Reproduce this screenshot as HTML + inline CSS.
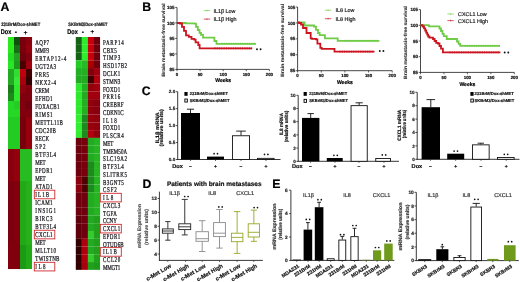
<!DOCTYPE html>
<html><head><meta charset="utf-8"><style>
html,body{margin:0;padding:0;background:#fff;width:520px;height:282px;overflow:hidden;}
svg{display:block;will-change:transform;}
</style></head><body>
<svg width="520" height="282" viewBox="0 0 520 282" font-family='"Liberation Sans", sans-serif' text-rendering="geometricPrecision">
<defs><filter id="hb" x="-5%" y="-1%" width="110%" height="102%"><feGaussianBlur stdDeviation="0.45"/></filter></defs>
<rect x="0" y="0" width="520" height="282" fill="#fff"/>
<text x="0.50" y="10.90" font-size="12.3" font-family='"Liberation Sans", sans-serif' fill="#000" stroke="#000" stroke-width="0.2" font-weight="bold">A</text>
<text x="1.20" y="26.40" font-size="4.9" font-family='"Liberation Sans", sans-serif' fill="#111" stroke="#111" stroke-width="0.18" font-weight="bold" textLength="39" lengthAdjust="spacingAndGlyphs">231BrM/Dox-shMET</text>
<text x="68.30" y="26.20" font-size="4.9" font-family='"Liberation Sans", sans-serif' fill="#111" stroke="#111" stroke-width="0.18" font-weight="bold" textLength="39.2" lengthAdjust="spacingAndGlyphs">SKBrM3/Dox-shMET</text>
<text x="0.80" y="34.10" font-size="6.8" font-family='"Liberation Sans", sans-serif' fill="#000" stroke="#000" stroke-width="0.18" font-weight="bold" textLength="10.5" lengthAdjust="spacingAndGlyphs">Dox</text>
<text x="67.30" y="34.10" font-size="6.8" font-family='"Liberation Sans", sans-serif' fill="#000" stroke="#000" stroke-width="0.18" font-weight="bold" textLength="10.5" lengthAdjust="spacingAndGlyphs">Dox</text>
<text x="16.00" y="33.80" font-size="6.8" font-family='"Liberation Sans", sans-serif' fill="#000" stroke="#000" stroke-width="0.18" font-weight="bold" text-anchor="middle">-</text>
<text x="25.60" y="34.50" font-size="7.0" font-family='"Liberation Sans", sans-serif' fill="#000" font-weight="bold" text-anchor="middle">+</text>
<text x="82.90" y="34.20" font-size="6.8" font-family='"Liberation Sans", sans-serif' fill="#000" stroke="#000" stroke-width="0.18" font-weight="bold" text-anchor="middle">-</text>
<text x="92.20" y="34.40" font-size="7.0" font-family='"Liberation Sans", sans-serif' fill="#000" font-weight="bold" text-anchor="middle">+</text>
<g filter="url(#hb)">
<rect x="8.00" y="37.00" width="6.05" height="8.05" fill="#2aec1c"/>
<rect x="14.00" y="37.00" width="6.05" height="8.05" fill="#0f500f"/>
<rect x="20.00" y="37.00" width="6.05" height="8.05" fill="#78000a"/>
<rect x="26.00" y="37.00" width="6.05" height="8.05" fill="#8c000c"/>
<rect x="8.00" y="45.00" width="6.05" height="8.05" fill="#2aec1c"/>
<rect x="14.00" y="45.00" width="6.05" height="8.05" fill="#186e18"/>
<rect x="20.00" y="45.00" width="6.05" height="8.05" fill="#78000a"/>
<rect x="26.00" y="45.00" width="6.05" height="8.05" fill="#96000c"/>
<rect x="8.00" y="53.00" width="6.05" height="8.05" fill="#22dd22"/>
<rect x="14.00" y="53.00" width="6.05" height="8.05" fill="#22a022"/>
<rect x="20.00" y="53.00" width="6.05" height="8.05" fill="#70000a"/>
<rect x="26.00" y="53.00" width="6.05" height="8.05" fill="#80000a"/>
<rect x="8.00" y="61.00" width="6.05" height="8.05" fill="#28e828"/>
<rect x="14.00" y="61.00" width="6.05" height="8.05" fill="#1a9a1a"/>
<rect x="20.00" y="61.00" width="6.05" height="8.05" fill="#4a0006"/>
<rect x="26.00" y="61.00" width="6.05" height="8.05" fill="#a0000a"/>
<rect x="8.00" y="69.00" width="6.05" height="8.05" fill="#22aa22"/>
<rect x="14.00" y="69.00" width="6.05" height="8.05" fill="#33dd33"/>
<rect x="20.00" y="69.00" width="6.05" height="8.05" fill="#c0000c"/>
<rect x="26.00" y="69.00" width="6.05" height="8.05" fill="#400206"/>
<rect x="8.00" y="77.00" width="6.05" height="8.05" fill="#22aa22"/>
<rect x="14.00" y="77.00" width="6.05" height="8.05" fill="#38e838"/>
<rect x="20.00" y="77.00" width="6.05" height="8.05" fill="#a8000c"/>
<rect x="26.00" y="77.00" width="6.05" height="8.05" fill="#300204"/>
<rect x="8.00" y="85.00" width="6.05" height="8.05" fill="#1a7a1a"/>
<rect x="14.00" y="85.00" width="6.05" height="8.05" fill="#2ee82e"/>
<rect x="20.00" y="85.00" width="6.05" height="8.05" fill="#90000a"/>
<rect x="26.00" y="85.00" width="6.05" height="8.05" fill="#80000a"/>
<rect x="8.00" y="93.00" width="6.05" height="8.05" fill="#1a8a1a"/>
<rect x="14.00" y="93.00" width="6.05" height="8.05" fill="#2ee82e"/>
<rect x="20.00" y="93.00" width="6.05" height="8.05" fill="#80000a"/>
<rect x="26.00" y="93.00" width="6.05" height="8.05" fill="#80000a"/>
<rect x="8.00" y="101.00" width="6.05" height="8.05" fill="#28d828"/>
<rect x="14.00" y="101.00" width="6.05" height="8.05" fill="#28cc28"/>
<rect x="20.00" y="101.00" width="6.05" height="8.05" fill="#80000a"/>
<rect x="26.00" y="101.00" width="6.05" height="8.05" fill="#70000a"/>
<rect x="8.00" y="109.00" width="6.05" height="8.05" fill="#28d828"/>
<rect x="14.00" y="109.00" width="6.05" height="8.05" fill="#28d828"/>
<rect x="20.00" y="109.00" width="6.05" height="8.05" fill="#80000a"/>
<rect x="26.00" y="109.00" width="6.05" height="8.05" fill="#80000a"/>
<rect x="8.00" y="117.00" width="6.05" height="8.05" fill="#22cc22"/>
<rect x="14.00" y="117.00" width="6.05" height="8.05" fill="#22cc22"/>
<rect x="20.00" y="117.00" width="6.05" height="8.05" fill="#78000a"/>
<rect x="26.00" y="117.00" width="6.05" height="8.05" fill="#96000c"/>
<rect x="8.00" y="125.00" width="6.05" height="8.05" fill="#22cc22"/>
<rect x="14.00" y="125.00" width="6.05" height="8.05" fill="#22cc22"/>
<rect x="20.00" y="125.00" width="6.05" height="8.05" fill="#78000a"/>
<rect x="26.00" y="125.00" width="6.05" height="8.05" fill="#96000c"/>
<rect x="8.00" y="133.00" width="6.05" height="8.05" fill="#22cc22"/>
<rect x="14.00" y="133.00" width="6.05" height="8.05" fill="#22cc22"/>
<rect x="20.00" y="133.00" width="6.05" height="8.05" fill="#78000a"/>
<rect x="26.00" y="133.00" width="6.05" height="8.05" fill="#96000c"/>
<rect x="8.00" y="141.00" width="6.05" height="8.05" fill="#22cc22"/>
<rect x="14.00" y="141.00" width="6.05" height="8.05" fill="#22cc22"/>
<rect x="20.00" y="141.00" width="6.05" height="8.05" fill="#78000a"/>
<rect x="26.00" y="141.00" width="6.05" height="8.05" fill="#96000c"/>
<rect x="8.00" y="149.00" width="6.05" height="8.05" fill="#88000a"/>
<rect x="14.00" y="149.00" width="6.05" height="8.05" fill="#94000c"/>
<rect x="20.00" y="149.00" width="6.05" height="8.05" fill="#28bc20"/>
<rect x="26.00" y="149.00" width="6.05" height="8.05" fill="#28bc20"/>
<rect x="8.00" y="157.00" width="6.05" height="8.05" fill="#88000a"/>
<rect x="14.00" y="157.00" width="6.05" height="8.05" fill="#94000c"/>
<rect x="20.00" y="157.00" width="6.05" height="8.05" fill="#28bc20"/>
<rect x="26.00" y="157.00" width="6.05" height="8.05" fill="#28bc20"/>
<rect x="8.00" y="165.00" width="6.05" height="8.05" fill="#88000a"/>
<rect x="14.00" y="165.00" width="6.05" height="8.05" fill="#94000c"/>
<rect x="20.00" y="165.00" width="6.05" height="8.05" fill="#28bc20"/>
<rect x="26.00" y="165.00" width="6.05" height="8.05" fill="#28bc20"/>
<rect x="8.00" y="173.00" width="6.05" height="8.05" fill="#88000a"/>
<rect x="14.00" y="173.00" width="6.05" height="8.05" fill="#94000c"/>
<rect x="20.00" y="173.00" width="6.05" height="8.05" fill="#28bc20"/>
<rect x="26.00" y="173.00" width="6.05" height="8.05" fill="#28bc20"/>
<rect x="8.00" y="181.00" width="6.05" height="8.05" fill="#7c000a"/>
<rect x="14.00" y="181.00" width="6.05" height="8.05" fill="#82000a"/>
<rect x="20.00" y="181.00" width="6.05" height="8.05" fill="#24aa18"/>
<rect x="26.00" y="181.00" width="6.05" height="8.05" fill="#26b01a"/>
<rect x="8.00" y="189.00" width="6.05" height="8.05" fill="#7c000a"/>
<rect x="14.00" y="189.00" width="6.05" height="8.05" fill="#82000a"/>
<rect x="20.00" y="189.00" width="6.05" height="8.05" fill="#24aa18"/>
<rect x="26.00" y="189.00" width="6.05" height="8.05" fill="#26b01a"/>
<rect x="8.00" y="197.00" width="6.05" height="8.05" fill="#7c000a"/>
<rect x="14.00" y="197.00" width="6.05" height="8.05" fill="#82000a"/>
<rect x="20.00" y="197.00" width="6.05" height="8.05" fill="#24aa18"/>
<rect x="26.00" y="197.00" width="6.05" height="8.05" fill="#26b01a"/>
<rect x="8.00" y="205.00" width="6.05" height="8.05" fill="#7c000a"/>
<rect x="14.00" y="205.00" width="6.05" height="8.05" fill="#82000a"/>
<rect x="20.00" y="205.00" width="6.05" height="8.05" fill="#24aa18"/>
<rect x="26.00" y="205.00" width="6.05" height="8.05" fill="#26b01a"/>
<rect x="8.00" y="213.00" width="6.05" height="8.05" fill="#7c000a"/>
<rect x="14.00" y="213.00" width="6.05" height="8.05" fill="#82000a"/>
<rect x="20.00" y="213.00" width="6.05" height="8.05" fill="#24aa18"/>
<rect x="26.00" y="213.00" width="6.05" height="8.05" fill="#26b01a"/>
<rect x="8.00" y="221.00" width="6.05" height="8.05" fill="#7c000a"/>
<rect x="14.00" y="221.00" width="6.05" height="8.05" fill="#82000a"/>
<rect x="20.00" y="221.00" width="6.05" height="8.05" fill="#24aa18"/>
<rect x="26.00" y="221.00" width="6.05" height="8.05" fill="#26b01a"/>
<rect x="8.00" y="229.00" width="6.05" height="8.05" fill="#7c000a"/>
<rect x="14.00" y="229.00" width="6.05" height="8.05" fill="#82000a"/>
<rect x="20.00" y="229.00" width="6.05" height="8.05" fill="#24aa18"/>
<rect x="26.00" y="229.00" width="6.05" height="8.05" fill="#26b01a"/>
<rect x="8.00" y="237.00" width="6.05" height="8.05" fill="#7c000a"/>
<rect x="14.00" y="237.00" width="6.05" height="8.05" fill="#82000a"/>
<rect x="20.00" y="237.00" width="6.05" height="8.05" fill="#24aa18"/>
<rect x="26.00" y="237.00" width="6.05" height="8.05" fill="#26b01a"/>
<rect x="8.00" y="245.00" width="6.05" height="8.05" fill="#82000a"/>
<rect x="14.00" y="245.00" width="6.05" height="8.05" fill="#80000a"/>
<rect x="20.00" y="245.00" width="6.05" height="8.05" fill="#1e9a16"/>
<rect x="26.00" y="245.00" width="6.05" height="8.05" fill="#24aa18"/>
<rect x="8.00" y="253.00" width="6.05" height="8.05" fill="#82000a"/>
<rect x="14.00" y="253.00" width="6.05" height="8.05" fill="#80000a"/>
<rect x="20.00" y="253.00" width="6.05" height="8.05" fill="#1e9a16"/>
<rect x="26.00" y="253.00" width="6.05" height="8.05" fill="#24aa18"/>
<rect x="8.00" y="261.00" width="6.05" height="8.05" fill="#82000a"/>
<rect x="14.00" y="261.00" width="6.05" height="8.05" fill="#80000a"/>
<rect x="20.00" y="261.00" width="6.05" height="8.05" fill="#1e9a16"/>
<rect x="26.00" y="261.00" width="6.05" height="8.05" fill="#24aa18"/>
<rect x="75.80" y="37.00" width="6.10" height="7.81" fill="#146414"/>
<rect x="81.85" y="37.00" width="6.10" height="7.81" fill="#2eec2e"/>
<rect x="87.90" y="37.00" width="6.10" height="7.81" fill="#c8000c"/>
<rect x="93.95" y="37.00" width="6.10" height="7.81" fill="#6e000a"/>
<rect x="75.80" y="44.76" width="6.10" height="7.81" fill="#146414"/>
<rect x="81.85" y="44.76" width="6.10" height="7.81" fill="#2eec2e"/>
<rect x="87.90" y="44.76" width="6.10" height="7.81" fill="#c8000c"/>
<rect x="93.95" y="44.76" width="6.10" height="7.81" fill="#6e000a"/>
<rect x="75.80" y="52.52" width="6.10" height="7.81" fill="#146414"/>
<rect x="81.85" y="52.52" width="6.10" height="7.81" fill="#2eec2e"/>
<rect x="87.90" y="52.52" width="6.10" height="7.81" fill="#c8000c"/>
<rect x="93.95" y="52.52" width="6.10" height="7.81" fill="#6e000a"/>
<rect x="75.80" y="60.28" width="6.10" height="7.81" fill="#28cc28"/>
<rect x="81.85" y="60.28" width="6.10" height="7.81" fill="#28bb28"/>
<rect x="87.90" y="60.28" width="6.10" height="7.81" fill="#aa0000"/>
<rect x="93.95" y="60.28" width="6.10" height="7.81" fill="#6e000a"/>
<rect x="75.80" y="68.04" width="6.10" height="7.81" fill="#22b022"/>
<rect x="81.85" y="68.04" width="6.10" height="7.81" fill="#22b022"/>
<rect x="87.90" y="68.04" width="6.10" height="7.81" fill="#80000a"/>
<rect x="93.95" y="68.04" width="6.10" height="7.81" fill="#a0000a"/>
<rect x="75.80" y="75.80" width="6.10" height="7.81" fill="#22aa22"/>
<rect x="81.85" y="75.80" width="6.10" height="7.81" fill="#22aa22"/>
<rect x="87.90" y="75.80" width="6.10" height="7.81" fill="#400206"/>
<rect x="93.95" y="75.80" width="6.10" height="7.81" fill="#b0000c"/>
<rect x="75.80" y="83.56" width="6.10" height="7.81" fill="#2ee82e"/>
<rect x="81.85" y="83.56" width="6.10" height="7.81" fill="#22b022"/>
<rect x="87.90" y="83.56" width="6.10" height="7.81" fill="#90000a"/>
<rect x="93.95" y="83.56" width="6.10" height="7.81" fill="#a0000a"/>
<rect x="75.80" y="91.32" width="6.10" height="7.81" fill="#2ee82e"/>
<rect x="81.85" y="91.32" width="6.10" height="7.81" fill="#22aa22"/>
<rect x="87.90" y="91.32" width="6.10" height="7.81" fill="#a0000a"/>
<rect x="93.95" y="91.32" width="6.10" height="7.81" fill="#a0000a"/>
<rect x="75.80" y="99.08" width="6.10" height="7.81" fill="#2ee82e"/>
<rect x="81.85" y="99.08" width="6.10" height="7.81" fill="#22b022"/>
<rect x="87.90" y="99.08" width="6.10" height="7.81" fill="#90000a"/>
<rect x="93.95" y="99.08" width="6.10" height="7.81" fill="#88000a"/>
<rect x="75.80" y="106.84" width="6.10" height="7.81" fill="#2ee82e"/>
<rect x="81.85" y="106.84" width="6.10" height="7.81" fill="#22b022"/>
<rect x="87.90" y="106.84" width="6.10" height="7.81" fill="#90000a"/>
<rect x="93.95" y="106.84" width="6.10" height="7.81" fill="#88000a"/>
<rect x="75.80" y="114.60" width="6.10" height="7.81" fill="#30ee30"/>
<rect x="81.85" y="114.60" width="6.10" height="7.81" fill="#1a8a1a"/>
<rect x="87.90" y="114.60" width="6.10" height="7.81" fill="#98000a"/>
<rect x="93.95" y="114.60" width="6.10" height="7.81" fill="#90000a"/>
<rect x="75.80" y="122.36" width="6.10" height="7.81" fill="#30ee30"/>
<rect x="81.85" y="122.36" width="6.10" height="7.81" fill="#1a8a1a"/>
<rect x="87.90" y="122.36" width="6.10" height="7.81" fill="#98000a"/>
<rect x="93.95" y="122.36" width="6.10" height="7.81" fill="#90000a"/>
<rect x="75.80" y="130.12" width="6.10" height="7.81" fill="#30ee30"/>
<rect x="81.85" y="130.12" width="6.10" height="7.81" fill="#1a8a1a"/>
<rect x="87.90" y="130.12" width="6.10" height="7.81" fill="#b0000c"/>
<rect x="93.95" y="130.12" width="6.10" height="7.81" fill="#90000a"/>
<rect x="75.80" y="137.88" width="6.10" height="7.81" fill="#6e000a"/>
<rect x="81.85" y="137.88" width="6.10" height="7.81" fill="#78000a"/>
<rect x="87.90" y="137.88" width="6.10" height="7.81" fill="#22aa22"/>
<rect x="93.95" y="137.88" width="6.10" height="7.81" fill="#26b422"/>
<rect x="75.80" y="145.64" width="6.10" height="7.81" fill="#6e000a"/>
<rect x="81.85" y="145.64" width="6.10" height="7.81" fill="#78000a"/>
<rect x="87.90" y="145.64" width="6.10" height="7.81" fill="#22aa22"/>
<rect x="93.95" y="145.64" width="6.10" height="7.81" fill="#26b422"/>
<rect x="75.80" y="153.40" width="6.10" height="7.81" fill="#6e000a"/>
<rect x="81.85" y="153.40" width="6.10" height="7.81" fill="#78000a"/>
<rect x="87.90" y="153.40" width="6.10" height="7.81" fill="#22aa22"/>
<rect x="93.95" y="153.40" width="6.10" height="7.81" fill="#26b422"/>
<rect x="75.80" y="161.16" width="6.10" height="7.81" fill="#6e000a"/>
<rect x="81.85" y="161.16" width="6.10" height="7.81" fill="#78000a"/>
<rect x="87.90" y="161.16" width="6.10" height="7.81" fill="#1a8a1a"/>
<rect x="93.95" y="161.16" width="6.10" height="7.81" fill="#26b422"/>
<rect x="75.80" y="168.92" width="6.10" height="7.81" fill="#6e000a"/>
<rect x="81.85" y="168.92" width="6.10" height="7.81" fill="#78000a"/>
<rect x="87.90" y="168.92" width="6.10" height="7.81" fill="#1a8a1a"/>
<rect x="93.95" y="168.92" width="6.10" height="7.81" fill="#26b422"/>
<rect x="75.80" y="176.68" width="6.10" height="7.81" fill="#8c000c"/>
<rect x="81.85" y="176.68" width="6.10" height="7.81" fill="#500206"/>
<rect x="87.90" y="176.68" width="6.10" height="7.81" fill="#1a8a1a"/>
<rect x="93.95" y="176.68" width="6.10" height="7.81" fill="#26b422"/>
<rect x="75.80" y="184.44" width="6.10" height="7.81" fill="#8c000c"/>
<rect x="81.85" y="184.44" width="6.10" height="7.81" fill="#500206"/>
<rect x="87.90" y="184.44" width="6.10" height="7.81" fill="#1a8a1a"/>
<rect x="93.95" y="184.44" width="6.10" height="7.81" fill="#26b422"/>
<rect x="75.80" y="192.20" width="6.10" height="7.81" fill="#70000a"/>
<rect x="81.85" y="192.20" width="6.10" height="7.81" fill="#70000a"/>
<rect x="87.90" y="192.20" width="6.10" height="7.81" fill="#22aa22"/>
<rect x="93.95" y="192.20" width="6.10" height="7.81" fill="#26b422"/>
<rect x="75.80" y="199.96" width="6.10" height="7.81" fill="#70000a"/>
<rect x="81.85" y="199.96" width="6.10" height="7.81" fill="#70000a"/>
<rect x="87.90" y="199.96" width="6.10" height="7.81" fill="#22aa22"/>
<rect x="93.95" y="199.96" width="6.10" height="7.81" fill="#26b422"/>
<rect x="75.80" y="207.72" width="6.10" height="7.81" fill="#70000a"/>
<rect x="81.85" y="207.72" width="6.10" height="7.81" fill="#70000a"/>
<rect x="87.90" y="207.72" width="6.10" height="7.81" fill="#22aa22"/>
<rect x="93.95" y="207.72" width="6.10" height="7.81" fill="#26b422"/>
<rect x="75.80" y="215.48" width="6.10" height="7.81" fill="#60000a"/>
<rect x="81.85" y="215.48" width="6.10" height="7.81" fill="#70000a"/>
<rect x="87.90" y="215.48" width="6.10" height="7.81" fill="#22aa22"/>
<rect x="93.95" y="215.48" width="6.10" height="7.81" fill="#22a01e"/>
<rect x="75.80" y="223.24" width="6.10" height="7.81" fill="#60000a"/>
<rect x="81.85" y="223.24" width="6.10" height="7.81" fill="#70000a"/>
<rect x="87.90" y="223.24" width="6.10" height="7.81" fill="#22aa22"/>
<rect x="93.95" y="223.24" width="6.10" height="7.81" fill="#22a01e"/>
<rect x="75.80" y="231.00" width="6.10" height="7.81" fill="#60000a"/>
<rect x="81.85" y="231.00" width="6.10" height="7.81" fill="#70000a"/>
<rect x="87.90" y="231.00" width="6.10" height="7.81" fill="#34cc2e"/>
<rect x="93.95" y="231.00" width="6.10" height="7.81" fill="#22a01e"/>
<rect x="75.80" y="238.76" width="6.10" height="7.81" fill="#300204"/>
<rect x="81.85" y="238.76" width="6.10" height="7.81" fill="#b0000c"/>
<rect x="87.90" y="238.76" width="6.10" height="7.81" fill="#22aa22"/>
<rect x="93.95" y="238.76" width="6.10" height="7.81" fill="#22a01e"/>
<rect x="75.80" y="246.52" width="6.10" height="7.81" fill="#300204"/>
<rect x="81.85" y="246.52" width="6.10" height="7.81" fill="#b0000c"/>
<rect x="87.90" y="246.52" width="6.10" height="7.81" fill="#22aa22"/>
<rect x="93.95" y="246.52" width="6.10" height="7.81" fill="#22a01e"/>
<rect x="75.80" y="254.28" width="6.10" height="7.81" fill="#300204"/>
<rect x="81.85" y="254.28" width="6.10" height="7.81" fill="#b0000c"/>
<rect x="87.90" y="254.28" width="6.10" height="7.81" fill="#34cc2e"/>
<rect x="93.95" y="254.28" width="6.10" height="7.81" fill="#22a01e"/>
<rect x="75.80" y="262.04" width="6.10" height="7.81" fill="#300204"/>
<rect x="81.85" y="262.04" width="6.10" height="7.81" fill="#a8000c"/>
<rect x="87.90" y="262.04" width="6.10" height="7.81" fill="#22a01e"/>
<rect x="93.95" y="262.04" width="6.10" height="7.81" fill="#1e9a1a"/>
</g>
<text x="0" y="0" transform="translate(35.30 44.75) scale(0.68 1)" font-size="7.4" font-family='"Liberation Serif", serif' fill="#121218" stroke="#121218" stroke-width="0.24" textLength="20.3" lengthAdjust="spacing">AQP7</text>
<text x="0" y="0" transform="translate(35.30 52.77) scale(0.68 1)" font-size="7.4" font-family='"Liberation Serif", serif' fill="#121218" stroke="#121218" stroke-width="0.24" textLength="20.3" lengthAdjust="spacing">MMP3</text>
<text x="0" y="0" transform="translate(35.30 60.78) scale(0.68 1)" font-size="7.4" font-family='"Liberation Serif", serif' fill="#121218" stroke="#121218" stroke-width="0.24" textLength="45.7" lengthAdjust="spacing">ERTAP12-4</text>
<text x="0" y="0" transform="translate(35.30 68.80) scale(0.68 1)" font-size="7.4" font-family='"Liberation Serif", serif' fill="#121218" stroke="#121218" stroke-width="0.24" textLength="30.4" lengthAdjust="spacing">UGT2A3</text>
<text x="0" y="0" transform="translate(35.30 76.81) scale(0.68 1)" font-size="7.4" font-family='"Liberation Serif", serif' fill="#121218" stroke="#121218" stroke-width="0.24" textLength="20.3" lengthAdjust="spacing">PRR5</text>
<text x="0" y="0" transform="translate(35.30 84.83) scale(0.68 1)" font-size="7.4" font-family='"Liberation Serif", serif' fill="#121218" stroke="#121218" stroke-width="0.24" textLength="30.4" lengthAdjust="spacing">NKX2-4</text>
<text x="0" y="0" transform="translate(35.30 92.84) scale(0.68 1)" font-size="7.4" font-family='"Liberation Serif", serif' fill="#121218" stroke="#121218" stroke-width="0.24" textLength="20.3" lengthAdjust="spacing">CREM</text>
<text x="0" y="0" transform="translate(35.30 100.86) scale(0.68 1)" font-size="7.4" font-family='"Liberation Serif", serif' fill="#121218" stroke="#121218" stroke-width="0.24" textLength="25.4" lengthAdjust="spacing">EFHD1</text>
<text x="0" y="0" transform="translate(35.30 108.87) scale(0.68 1)" font-size="7.4" font-family='"Liberation Serif", serif' fill="#121218" stroke="#121218" stroke-width="0.24" textLength="35.5" lengthAdjust="spacing">FDXACB1</text>
<text x="0" y="0" transform="translate(35.30 116.89) scale(0.68 1)" font-size="7.4" font-family='"Liberation Serif", serif' fill="#121218" stroke="#121218" stroke-width="0.24" textLength="25.4" lengthAdjust="spacing">RIMS1</text>
<text x="0" y="0" transform="translate(35.30 124.90) scale(0.68 1)" font-size="7.4" font-family='"Liberation Serif", serif' fill="#121218" stroke="#121218" stroke-width="0.24" textLength="40.6" lengthAdjust="spacing">METTL11B</text>
<text x="0" y="0" transform="translate(35.30 132.92) scale(0.68 1)" font-size="7.4" font-family='"Liberation Serif", serif' fill="#121218" stroke="#121218" stroke-width="0.24" textLength="30.4" lengthAdjust="spacing">CDC20B</text>
<text x="0" y="0" transform="translate(35.30 140.93) scale(0.68 1)" font-size="7.4" font-family='"Liberation Serif", serif' fill="#121218" stroke="#121218" stroke-width="0.24" textLength="20.3" lengthAdjust="spacing">RECK</text>
<text x="0" y="0" transform="translate(35.30 148.95) scale(0.68 1)" font-size="7.4" font-family='"Liberation Serif", serif' fill="#121218" stroke="#121218" stroke-width="0.24" textLength="15.2" lengthAdjust="spacing">SP2</text>
<text x="0" y="0" transform="translate(35.30 156.96) scale(0.68 1)" font-size="7.4" font-family='"Liberation Serif", serif' fill="#121218" stroke="#121218" stroke-width="0.24" textLength="30.4" lengthAdjust="spacing">BTF3L4</text>
<text x="0" y="0" transform="translate(35.30 164.98) scale(0.68 1)" font-size="7.4" font-family='"Liberation Serif", serif' fill="#121218" stroke="#121218" stroke-width="0.24" textLength="15.2" lengthAdjust="spacing">MET</text>
<text x="0" y="0" transform="translate(35.30 172.99) scale(0.68 1)" font-size="7.4" font-family='"Liberation Serif", serif' fill="#121218" stroke="#121218" stroke-width="0.24" textLength="25.4" lengthAdjust="spacing">EPDR1</text>
<text x="0" y="0" transform="translate(35.30 181.00) scale(0.68 1)" font-size="7.4" font-family='"Liberation Serif", serif' fill="#121218" stroke="#121218" stroke-width="0.24" textLength="15.2" lengthAdjust="spacing">MET</text>
<text x="0" y="0" transform="translate(35.30 189.02) scale(0.68 1)" font-size="7.4" font-family='"Liberation Serif", serif' fill="#121218" stroke="#121218" stroke-width="0.24" textLength="25.4" lengthAdjust="spacing">ATAD1</text>
<text x="0" y="0" transform="translate(35.30 197.04) scale(0.68 1)" font-size="7.4" font-family='"Liberation Serif", serif' fill="#121218" stroke="#121218" stroke-width="0.24" textLength="20.3" lengthAdjust="spacing">IL1B</text>
<rect x="34.30" y="190.19" width="20.50" height="8.60" fill="none" stroke="#d0282c" stroke-width="0.9"/>
<text x="0" y="0" transform="translate(35.30 205.05) scale(0.68 1)" font-size="7.4" font-family='"Liberation Serif", serif' fill="#121218" stroke="#121218" stroke-width="0.24" textLength="25.4" lengthAdjust="spacing">ICAM1</text>
<text x="0" y="0" transform="translate(35.30 213.06) scale(0.68 1)" font-size="7.4" font-family='"Liberation Serif", serif' fill="#121218" stroke="#121218" stroke-width="0.24" textLength="30.4" lengthAdjust="spacing">INSIG1</text>
<text x="0" y="0" transform="translate(35.30 221.08) scale(0.68 1)" font-size="7.4" font-family='"Liberation Serif", serif' fill="#121218" stroke="#121218" stroke-width="0.24" textLength="25.4" lengthAdjust="spacing">BIRC3</text>
<text x="0" y="0" transform="translate(35.30 229.10) scale(0.68 1)" font-size="7.4" font-family='"Liberation Serif", serif' fill="#121218" stroke="#121218" stroke-width="0.24" textLength="30.4" lengthAdjust="spacing">BTF3L4</text>
<text x="0" y="0" transform="translate(35.30 237.11) scale(0.68 1)" font-size="7.4" font-family='"Liberation Serif", serif' fill="#121218" stroke="#121218" stroke-width="0.24" textLength="25.4" lengthAdjust="spacing">CXCL1</text>
<rect x="34.30" y="230.26" width="20.50" height="8.60" fill="none" stroke="#d0282c" stroke-width="0.9"/>
<text x="0" y="0" transform="translate(35.30 245.12) scale(0.68 1)" font-size="7.4" font-family='"Liberation Serif", serif' fill="#121218" stroke="#121218" stroke-width="0.24" textLength="15.2" lengthAdjust="spacing">MET</text>
<text x="0" y="0" transform="translate(35.30 253.14) scale(0.68 1)" font-size="7.4" font-family='"Liberation Serif", serif' fill="#121218" stroke="#121218" stroke-width="0.24" textLength="30.4" lengthAdjust="spacing">MLLT10</text>
<text x="0" y="0" transform="translate(35.30 261.16) scale(0.68 1)" font-size="7.4" font-family='"Liberation Serif", serif' fill="#121218" stroke="#121218" stroke-width="0.24" textLength="35.5" lengthAdjust="spacing">TWISTNB</text>
<text x="0" y="0" transform="translate(35.30 269.17) scale(0.68 1)" font-size="7.4" font-family='"Liberation Serif", serif' fill="#121218" stroke="#121218" stroke-width="0.24" textLength="15.2" lengthAdjust="spacing">IL8</text>
<rect x="34.30" y="262.32" width="20.50" height="8.60" fill="none" stroke="#d0282c" stroke-width="0.9"/>
<text x="0" y="0" transform="translate(103.00 44.95) scale(0.68 1)" font-size="7.4" font-family='"Liberation Serif", serif' fill="#121218" stroke="#121218" stroke-width="0.24" textLength="30.4" lengthAdjust="spacing">PARP14</text>
<text x="0" y="0" transform="translate(103.00 52.71) scale(0.68 1)" font-size="7.4" font-family='"Liberation Serif", serif' fill="#121218" stroke="#121218" stroke-width="0.24" textLength="20.3" lengthAdjust="spacing">CBX5</text>
<text x="0" y="0" transform="translate(103.00 60.47) scale(0.68 1)" font-size="7.4" font-family='"Liberation Serif", serif' fill="#121218" stroke="#121218" stroke-width="0.24" textLength="25.4" lengthAdjust="spacing">TIMP3</text>
<text x="0" y="0" transform="translate(103.00 68.23) scale(0.68 1)" font-size="7.4" font-family='"Liberation Serif", serif' fill="#121218" stroke="#121218" stroke-width="0.24" textLength="35.5" lengthAdjust="spacing">HSD17B2</text>
<text x="0" y="0" transform="translate(103.00 75.99) scale(0.68 1)" font-size="7.4" font-family='"Liberation Serif", serif' fill="#121218" stroke="#121218" stroke-width="0.24" textLength="25.4" lengthAdjust="spacing">DCLK1</text>
<text x="0" y="0" transform="translate(103.00 83.75) scale(0.68 1)" font-size="7.4" font-family='"Liberation Serif", serif' fill="#121218" stroke="#121218" stroke-width="0.24" textLength="25.4" lengthAdjust="spacing">STMN3</text>
<text x="0" y="0" transform="translate(103.00 91.51) scale(0.68 1)" font-size="7.4" font-family='"Liberation Serif", serif' fill="#121218" stroke="#121218" stroke-width="0.24" textLength="25.4" lengthAdjust="spacing">FOXD1</text>
<text x="0" y="0" transform="translate(103.00 99.27) scale(0.68 1)" font-size="7.4" font-family='"Liberation Serif", serif' fill="#121218" stroke="#121218" stroke-width="0.24" textLength="25.4" lengthAdjust="spacing">PRR16</text>
<text x="0" y="0" transform="translate(103.00 107.03) scale(0.68 1)" font-size="7.4" font-family='"Liberation Serif", serif' fill="#121218" stroke="#121218" stroke-width="0.24" textLength="30.4" lengthAdjust="spacing">CREBRF</text>
<text x="0" y="0" transform="translate(103.00 114.79) scale(0.68 1)" font-size="7.4" font-family='"Liberation Serif", serif' fill="#121218" stroke="#121218" stroke-width="0.24" textLength="30.4" lengthAdjust="spacing">CDKN1C</text>
<text x="0" y="0" transform="translate(103.00 122.55) scale(0.68 1)" font-size="7.4" font-family='"Liberation Serif", serif' fill="#121218" stroke="#121218" stroke-width="0.24" textLength="20.3" lengthAdjust="spacing">IL18</text>
<text x="0" y="0" transform="translate(103.00 130.31) scale(0.68 1)" font-size="7.4" font-family='"Liberation Serif", serif' fill="#121218" stroke="#121218" stroke-width="0.24" textLength="25.4" lengthAdjust="spacing">FOXD1</text>
<text x="0" y="0" transform="translate(103.00 138.07) scale(0.68 1)" font-size="7.4" font-family='"Liberation Serif", serif' fill="#121218" stroke="#121218" stroke-width="0.24" textLength="30.4" lengthAdjust="spacing">PLSCR4</text>
<text x="0" y="0" transform="translate(103.00 145.83) scale(0.68 1)" font-size="7.4" font-family='"Liberation Serif", serif' fill="#121218" stroke="#121218" stroke-width="0.24" textLength="15.2" lengthAdjust="spacing">MET</text>
<text x="0" y="0" transform="translate(103.00 153.59) scale(0.68 1)" font-size="7.4" font-family='"Liberation Serif", serif' fill="#121218" stroke="#121218" stroke-width="0.24" textLength="35.5" lengthAdjust="spacing">TMEM50A</text>
<text x="0" y="0" transform="translate(103.00 161.35) scale(0.68 1)" font-size="7.4" font-family='"Liberation Serif", serif' fill="#121218" stroke="#121218" stroke-width="0.24" textLength="35.5" lengthAdjust="spacing">SLC19A2</text>
<text x="0" y="0" transform="translate(103.00 169.11) scale(0.68 1)" font-size="7.4" font-family='"Liberation Serif", serif' fill="#121218" stroke="#121218" stroke-width="0.24" textLength="30.4" lengthAdjust="spacing">BTF3L4</text>
<text x="0" y="0" transform="translate(103.00 176.87) scale(0.68 1)" font-size="7.4" font-family='"Liberation Serif", serif' fill="#121218" stroke="#121218" stroke-width="0.24" textLength="35.5" lengthAdjust="spacing">SLITRK5</text>
<text x="0" y="0" transform="translate(103.00 184.63) scale(0.68 1)" font-size="7.4" font-family='"Liberation Serif", serif' fill="#121218" stroke="#121218" stroke-width="0.24" textLength="30.4" lengthAdjust="spacing">B3GNT5</text>
<text x="0" y="0" transform="translate(103.00 192.39) scale(0.68 1)" font-size="7.4" font-family='"Liberation Serif", serif' fill="#121218" stroke="#121218" stroke-width="0.24" textLength="20.3" lengthAdjust="spacing">CSF2</text>
<text x="0" y="0" transform="translate(103.00 200.15) scale(0.68 1)" font-size="7.4" font-family='"Liberation Serif", serif' fill="#121218" stroke="#121218" stroke-width="0.24" textLength="15.2" lengthAdjust="spacing">IL8</text>
<rect x="100.30" y="193.30" width="21.00" height="8.60" fill="none" stroke="#d0282c" stroke-width="0.9"/>
<text x="0" y="0" transform="translate(103.00 207.91) scale(0.68 1)" font-size="7.4" font-family='"Liberation Serif", serif' fill="#121218" stroke="#121218" stroke-width="0.24" textLength="25.4" lengthAdjust="spacing">CXCL3</text>
<text x="0" y="0" transform="translate(103.00 215.67) scale(0.68 1)" font-size="7.4" font-family='"Liberation Serif", serif' fill="#121218" stroke="#121218" stroke-width="0.24" textLength="20.3" lengthAdjust="spacing">TGFA</text>
<text x="0" y="0" transform="translate(103.00 223.43) scale(0.68 1)" font-size="7.4" font-family='"Liberation Serif", serif' fill="#121218" stroke="#121218" stroke-width="0.24" textLength="20.3" lengthAdjust="spacing">CCNY</text>
<text x="0" y="0" transform="translate(103.00 231.19) scale(0.68 1)" font-size="7.4" font-family='"Liberation Serif", serif' fill="#121218" stroke="#121218" stroke-width="0.24" textLength="25.4" lengthAdjust="spacing">CXCL1</text>
<rect x="100.30" y="224.34" width="21.00" height="8.60" fill="none" stroke="#d0282c" stroke-width="0.9"/>
<text x="0" y="0" transform="translate(103.00 238.95) scale(0.68 1)" font-size="7.4" font-family='"Liberation Serif", serif' fill="#121218" stroke="#121218" stroke-width="0.24" textLength="25.4" lengthAdjust="spacing">EPDR1</text>
<text x="0" y="0" transform="translate(103.00 246.71) scale(0.68 1)" font-size="7.4" font-family='"Liberation Serif", serif' fill="#121218" stroke="#121218" stroke-width="0.24" textLength="30.4" lengthAdjust="spacing">OTUD6B</text>
<text x="0" y="0" transform="translate(103.00 254.47) scale(0.68 1)" font-size="7.4" font-family='"Liberation Serif", serif' fill="#121218" stroke="#121218" stroke-width="0.24" textLength="20.3" lengthAdjust="spacing">IL1B</text>
<rect x="100.30" y="247.62" width="21.00" height="8.60" fill="none" stroke="#d0282c" stroke-width="0.9"/>
<text x="0" y="0" transform="translate(103.00 262.23) scale(0.68 1)" font-size="7.4" font-family='"Liberation Serif", serif' fill="#121218" stroke="#121218" stroke-width="0.24" textLength="25.4" lengthAdjust="spacing">CCL20</text>
<text x="0" y="0" transform="translate(103.00 269.99) scale(0.68 1)" font-size="7.4" font-family='"Liberation Serif", serif' fill="#121218" stroke="#121218" stroke-width="0.24" textLength="25.4" lengthAdjust="spacing">MMGT1</text>
<text x="142.20" y="10.90" font-size="12.3" font-family='"Liberation Sans", sans-serif' fill="#000" stroke="#000" stroke-width="0.2" font-weight="bold">B</text>
<line x1="177.00" y1="7.40" x2="177.00" y2="69.90" stroke="#333" stroke-width="0.9"/>
<line x1="176.50" y1="69.40" x2="269.40" y2="69.40" stroke="#333" stroke-width="0.9"/>
<line x1="175.20" y1="7.40" x2="177.00" y2="7.40" stroke="#333" stroke-width="0.8"/>
<text x="174.60" y="9.00" font-size="4.5" font-family='"Liberation Sans", sans-serif' fill="#111" stroke="#111" stroke-width="0.18" font-weight="bold" text-anchor="end">105</text>
<line x1="175.20" y1="22.90" x2="177.00" y2="22.90" stroke="#333" stroke-width="0.8"/>
<text x="174.60" y="24.50" font-size="4.5" font-family='"Liberation Sans", sans-serif' fill="#111" stroke="#111" stroke-width="0.18" font-weight="bold" text-anchor="end">100</text>
<line x1="175.20" y1="38.40" x2="177.00" y2="38.40" stroke="#333" stroke-width="0.8"/>
<text x="174.60" y="40.00" font-size="4.5" font-family='"Liberation Sans", sans-serif' fill="#111" stroke="#111" stroke-width="0.18" font-weight="bold" text-anchor="end">95</text>
<line x1="175.20" y1="53.90" x2="177.00" y2="53.90" stroke="#333" stroke-width="0.8"/>
<text x="174.60" y="55.50" font-size="4.5" font-family='"Liberation Sans", sans-serif' fill="#111" stroke="#111" stroke-width="0.18" font-weight="bold" text-anchor="end">90</text>
<line x1="175.20" y1="69.40" x2="177.00" y2="69.40" stroke="#333" stroke-width="0.8"/>
<text x="174.60" y="71.00" font-size="4.5" font-family='"Liberation Sans", sans-serif' fill="#111" stroke="#111" stroke-width="0.18" font-weight="bold" text-anchor="end">85</text>
<line x1="177.00" y1="69.40" x2="177.00" y2="71.20" stroke="#333" stroke-width="0.8"/>
<text x="177.00" y="75.70" font-size="4.4" font-family='"Liberation Sans", sans-serif' fill="#111" stroke="#111" stroke-width="0.18" font-weight="bold" text-anchor="middle">0</text>
<line x1="200.10" y1="69.40" x2="200.10" y2="71.20" stroke="#333" stroke-width="0.8"/>
<text x="200.10" y="75.70" font-size="4.4" font-family='"Liberation Sans", sans-serif' fill="#111" stroke="#111" stroke-width="0.18" font-weight="bold" text-anchor="middle">50</text>
<line x1="223.20" y1="69.40" x2="223.20" y2="71.20" stroke="#333" stroke-width="0.8"/>
<text x="223.20" y="75.70" font-size="4.4" font-family='"Liberation Sans", sans-serif' fill="#111" stroke="#111" stroke-width="0.18" font-weight="bold" text-anchor="middle">100</text>
<line x1="246.30" y1="69.40" x2="246.30" y2="71.20" stroke="#333" stroke-width="0.8"/>
<text x="246.30" y="75.70" font-size="4.4" font-family='"Liberation Sans", sans-serif' fill="#111" stroke="#111" stroke-width="0.18" font-weight="bold" text-anchor="middle">150</text>
<line x1="269.40" y1="69.40" x2="269.40" y2="71.20" stroke="#333" stroke-width="0.8"/>
<text x="269.40" y="75.70" font-size="4.4" font-family='"Liberation Sans", sans-serif' fill="#111" stroke="#111" stroke-width="0.18" font-weight="bold" text-anchor="middle">200</text>
<text x="223.20" y="82.40" font-size="5.4" font-family='"Liberation Sans", sans-serif' fill="#000" stroke="#000" stroke-width="0.18" font-weight="bold" text-anchor="middle" textLength="16.0" lengthAdjust="spacingAndGlyphs">Weeks</text>
<text x="164.70" y="39.90" font-size="4.7" font-family='"Liberation Sans", sans-serif' fill="#2a2a2a" stroke="#2a2a2a" stroke-width="0.1" font-weight="bold" text-anchor="middle" textLength="73" lengthAdjust="spacingAndGlyphs" transform="rotate(-90 164.70 39.90)">Brain metastasis-free survival</text>
<line x1="203.80" y1="10.60" x2="210.20" y2="10.60" stroke="#70cc46" stroke-width="1.0" opacity="0.7"/>
<line x1="207.00" y1="9.60" x2="207.00" y2="11.60" stroke="#70cc46" stroke-width="0.7" opacity="0.7"/>
<line x1="203.80" y1="19.10" x2="210.20" y2="19.10" stroke="#cc1420" stroke-width="1.0" opacity="0.7"/>
<line x1="207.00" y1="18.10" x2="207.00" y2="20.10" stroke="#cc1420" stroke-width="0.7" opacity="0.7"/>
<text x="213.40" y="12.50" font-size="5.4" font-family='"Liberation Sans", sans-serif' fill="#1a1a1a" stroke="#1a1a1a" stroke-width="0.18">IL1β Low</text>
<text x="213.40" y="21.00" font-size="5.4" font-family='"Liberation Sans", sans-serif' fill="#1a1a1a" stroke="#1a1a1a" stroke-width="0.18">IL1β High</text>
<polyline points="177.00,23.00 186.00,23.00 186.00,23.30 194.50,23.30 194.50,23.60 196.00,23.60 196.00,26.80 197.80,26.80 197.80,30.00 199.50,30.00 199.50,32.80 201.00,32.80 201.00,34.90 203.00,34.90 203.00,37.60 214.40,37.60 214.40,41.00 216.50,41.00 216.50,43.80 256.00,43.80 256.00,43.80" fill="none" stroke="#70cc46" stroke-width="1.8" stroke-linejoin="miter"/>
<polyline points="177.00,23.00 180.00,23.00 180.00,23.50 182.00,23.50 182.00,26.80 184.00,26.80 184.00,30.80 186.00,30.80 186.00,35.30 188.80,35.30 188.80,36.90 191.50,36.90 191.50,38.90 194.20,38.90 194.20,39.60 195.60,39.60 195.60,42.30 198.30,42.30 198.30,45.00 199.60,45.00 199.60,48.30 252.00,48.30 252.00,48.30" fill="none" stroke="#cc1420" stroke-width="1.8" stroke-linejoin="miter"/>
<line x1="222.00" y1="42.60" x2="222.00" y2="45.00" stroke="#70cc46" stroke-width="0.6"/>
<line x1="224.30" y1="42.60" x2="224.30" y2="45.00" stroke="#70cc46" stroke-width="0.6"/>
<line x1="226.60" y1="42.60" x2="226.60" y2="45.00" stroke="#70cc46" stroke-width="0.6"/>
<line x1="228.90" y1="42.60" x2="228.90" y2="45.00" stroke="#70cc46" stroke-width="0.6"/>
<line x1="231.20" y1="42.60" x2="231.20" y2="45.00" stroke="#70cc46" stroke-width="0.6"/>
<line x1="233.50" y1="42.60" x2="233.50" y2="45.00" stroke="#70cc46" stroke-width="0.6"/>
<line x1="235.80" y1="42.60" x2="235.80" y2="45.00" stroke="#70cc46" stroke-width="0.6"/>
<line x1="238.10" y1="42.60" x2="238.10" y2="45.00" stroke="#70cc46" stroke-width="0.6"/>
<line x1="240.40" y1="42.60" x2="240.40" y2="45.00" stroke="#70cc46" stroke-width="0.6"/>
<line x1="242.70" y1="42.60" x2="242.70" y2="45.00" stroke="#70cc46" stroke-width="0.6"/>
<line x1="245.00" y1="42.60" x2="245.00" y2="45.00" stroke="#70cc46" stroke-width="0.6"/>
<line x1="247.30" y1="42.60" x2="247.30" y2="45.00" stroke="#70cc46" stroke-width="0.6"/>
<line x1="249.60" y1="42.60" x2="249.60" y2="45.00" stroke="#70cc46" stroke-width="0.6"/>
<line x1="251.90" y1="42.60" x2="251.90" y2="45.00" stroke="#70cc46" stroke-width="0.6"/>
<line x1="254.20" y1="42.60" x2="254.20" y2="45.00" stroke="#70cc46" stroke-width="0.6"/>
<line x1="215.00" y1="47.10" x2="215.00" y2="49.50" stroke="#cc1420" stroke-width="0.6"/>
<line x1="217.30" y1="47.10" x2="217.30" y2="49.50" stroke="#cc1420" stroke-width="0.6"/>
<line x1="219.60" y1="47.10" x2="219.60" y2="49.50" stroke="#cc1420" stroke-width="0.6"/>
<line x1="221.90" y1="47.10" x2="221.90" y2="49.50" stroke="#cc1420" stroke-width="0.6"/>
<line x1="224.20" y1="47.10" x2="224.20" y2="49.50" stroke="#cc1420" stroke-width="0.6"/>
<line x1="226.50" y1="47.10" x2="226.50" y2="49.50" stroke="#cc1420" stroke-width="0.6"/>
<line x1="228.80" y1="47.10" x2="228.80" y2="49.50" stroke="#cc1420" stroke-width="0.6"/>
<line x1="231.10" y1="47.10" x2="231.10" y2="49.50" stroke="#cc1420" stroke-width="0.6"/>
<line x1="233.40" y1="47.10" x2="233.40" y2="49.50" stroke="#cc1420" stroke-width="0.6"/>
<line x1="235.70" y1="47.10" x2="235.70" y2="49.50" stroke="#cc1420" stroke-width="0.6"/>
<line x1="238.00" y1="47.10" x2="238.00" y2="49.50" stroke="#cc1420" stroke-width="0.6"/>
<line x1="240.30" y1="47.10" x2="240.30" y2="49.50" stroke="#cc1420" stroke-width="0.6"/>
<line x1="242.60" y1="47.10" x2="242.60" y2="49.50" stroke="#cc1420" stroke-width="0.6"/>
<line x1="244.90" y1="47.10" x2="244.90" y2="49.50" stroke="#cc1420" stroke-width="0.6"/>
<line x1="247.20" y1="47.10" x2="247.20" y2="49.50" stroke="#cc1420" stroke-width="0.6"/>
<line x1="249.50" y1="47.10" x2="249.50" y2="49.50" stroke="#cc1420" stroke-width="0.6"/>
<line x1="251.80" y1="47.10" x2="251.80" y2="49.50" stroke="#cc1420" stroke-width="0.6"/>
<circle cx="257.00" cy="49.20" r="0.95" fill="#111"/>
<circle cx="260.60" cy="49.20" r="0.95" fill="#111"/>
<line x1="297.60" y1="7.00" x2="297.60" y2="71.20" stroke="#333" stroke-width="0.9"/>
<line x1="297.10" y1="70.70" x2="392.20" y2="70.70" stroke="#333" stroke-width="0.9"/>
<line x1="295.80" y1="7.00" x2="297.60" y2="7.00" stroke="#333" stroke-width="0.8"/>
<text x="295.20" y="8.60" font-size="4.5" font-family='"Liberation Sans", sans-serif' fill="#111" stroke="#111" stroke-width="0.18" font-weight="bold" text-anchor="end">105</text>
<line x1="295.80" y1="22.93" x2="297.60" y2="22.93" stroke="#333" stroke-width="0.8"/>
<text x="295.20" y="24.53" font-size="4.5" font-family='"Liberation Sans", sans-serif' fill="#111" stroke="#111" stroke-width="0.18" font-weight="bold" text-anchor="end">100</text>
<line x1="295.80" y1="38.85" x2="297.60" y2="38.85" stroke="#333" stroke-width="0.8"/>
<text x="295.20" y="40.45" font-size="4.5" font-family='"Liberation Sans", sans-serif' fill="#111" stroke="#111" stroke-width="0.18" font-weight="bold" text-anchor="end">95</text>
<line x1="295.80" y1="54.78" x2="297.60" y2="54.78" stroke="#333" stroke-width="0.8"/>
<text x="295.20" y="56.38" font-size="4.5" font-family='"Liberation Sans", sans-serif' fill="#111" stroke="#111" stroke-width="0.18" font-weight="bold" text-anchor="end">90</text>
<line x1="295.80" y1="70.70" x2="297.60" y2="70.70" stroke="#333" stroke-width="0.8"/>
<text x="295.20" y="72.30" font-size="4.5" font-family='"Liberation Sans", sans-serif' fill="#111" stroke="#111" stroke-width="0.18" font-weight="bold" text-anchor="end">85</text>
<line x1="297.60" y1="70.70" x2="297.60" y2="72.50" stroke="#333" stroke-width="0.8"/>
<text x="297.60" y="77.00" font-size="4.4" font-family='"Liberation Sans", sans-serif' fill="#111" stroke="#111" stroke-width="0.18" font-weight="bold" text-anchor="middle">0</text>
<line x1="321.25" y1="70.70" x2="321.25" y2="72.50" stroke="#333" stroke-width="0.8"/>
<text x="321.25" y="77.00" font-size="4.4" font-family='"Liberation Sans", sans-serif' fill="#111" stroke="#111" stroke-width="0.18" font-weight="bold" text-anchor="middle">50</text>
<line x1="344.90" y1="70.70" x2="344.90" y2="72.50" stroke="#333" stroke-width="0.8"/>
<text x="344.90" y="77.00" font-size="4.4" font-family='"Liberation Sans", sans-serif' fill="#111" stroke="#111" stroke-width="0.18" font-weight="bold" text-anchor="middle">100</text>
<line x1="368.55" y1="70.70" x2="368.55" y2="72.50" stroke="#333" stroke-width="0.8"/>
<text x="368.55" y="77.00" font-size="4.4" font-family='"Liberation Sans", sans-serif' fill="#111" stroke="#111" stroke-width="0.18" font-weight="bold" text-anchor="middle">150</text>
<line x1="392.20" y1="70.70" x2="392.20" y2="72.50" stroke="#333" stroke-width="0.8"/>
<text x="392.20" y="77.00" font-size="4.4" font-family='"Liberation Sans", sans-serif' fill="#111" stroke="#111" stroke-width="0.18" font-weight="bold" text-anchor="middle">200</text>
<text x="344.90" y="83.80" font-size="5.4" font-family='"Liberation Sans", sans-serif' fill="#000" stroke="#000" stroke-width="0.18" font-weight="bold" text-anchor="middle" textLength="16.0" lengthAdjust="spacingAndGlyphs">Weeks</text>
<text x="284.50" y="40.35" font-size="4.7" font-family='"Liberation Sans", sans-serif' fill="#2a2a2a" stroke="#2a2a2a" stroke-width="0.1" font-weight="bold" text-anchor="middle" textLength="73" lengthAdjust="spacingAndGlyphs" transform="rotate(-90 284.50 40.35)">Brain metastasis-free survival</text>
<line x1="324.90" y1="10.20" x2="331.30" y2="10.20" stroke="#70cc46" stroke-width="1.0" opacity="0.7"/>
<line x1="328.10" y1="9.20" x2="328.10" y2="11.20" stroke="#70cc46" stroke-width="0.7" opacity="0.7"/>
<line x1="324.90" y1="18.70" x2="331.30" y2="18.70" stroke="#cc1420" stroke-width="1.0" opacity="0.7"/>
<line x1="328.10" y1="17.70" x2="328.10" y2="19.70" stroke="#cc1420" stroke-width="0.7" opacity="0.7"/>
<text x="335.50" y="12.10" font-size="5.4" font-family='"Liberation Sans", sans-serif' fill="#1a1a1a" stroke="#1a1a1a" stroke-width="0.18">IL8 Low</text>
<text x="335.50" y="20.60" font-size="5.4" font-family='"Liberation Sans", sans-serif' fill="#1a1a1a" stroke="#1a1a1a" stroke-width="0.18">IL8 High</text>
<polyline points="297.60,22.30 304.40,22.30 304.40,22.60 304.60,22.60 304.60,25.50 314.00,25.50 314.00,26.60 316.00,26.60 316.00,29.80 318.00,29.80 318.00,33.00 319.60,33.00 319.60,35.10 324.90,35.10 324.90,38.30 337.70,38.30 337.70,40.90 379.40,40.90 379.40,40.90" fill="none" stroke="#70cc46" stroke-width="1.8" stroke-linejoin="miter"/>
<polyline points="297.60,22.30 299.00,22.30 299.00,23.00 301.00,23.00 301.00,24.50 303.00,24.50 303.00,28.00 306.50,28.00 306.50,33.00 310.70,33.00 310.70,38.30 312.00,38.30 312.00,38.80 316.00,38.80 316.00,39.40 317.40,39.40 317.40,43.60 320.30,43.60 320.30,47.90 321.70,47.90 321.70,48.80 334.50,48.80 334.50,51.70 374.50,51.70 374.50,51.70" fill="none" stroke="#cc1420" stroke-width="1.8" stroke-linejoin="miter"/>
<line x1="345.00" y1="39.70" x2="345.00" y2="42.10" stroke="#70cc46" stroke-width="0.6"/>
<line x1="347.30" y1="39.70" x2="347.30" y2="42.10" stroke="#70cc46" stroke-width="0.6"/>
<line x1="349.60" y1="39.70" x2="349.60" y2="42.10" stroke="#70cc46" stroke-width="0.6"/>
<line x1="351.90" y1="39.70" x2="351.90" y2="42.10" stroke="#70cc46" stroke-width="0.6"/>
<line x1="354.20" y1="39.70" x2="354.20" y2="42.10" stroke="#70cc46" stroke-width="0.6"/>
<line x1="356.50" y1="39.70" x2="356.50" y2="42.10" stroke="#70cc46" stroke-width="0.6"/>
<line x1="358.80" y1="39.70" x2="358.80" y2="42.10" stroke="#70cc46" stroke-width="0.6"/>
<line x1="361.10" y1="39.70" x2="361.10" y2="42.10" stroke="#70cc46" stroke-width="0.6"/>
<line x1="363.40" y1="39.70" x2="363.40" y2="42.10" stroke="#70cc46" stroke-width="0.6"/>
<line x1="365.70" y1="39.70" x2="365.70" y2="42.10" stroke="#70cc46" stroke-width="0.6"/>
<line x1="368.00" y1="39.70" x2="368.00" y2="42.10" stroke="#70cc46" stroke-width="0.6"/>
<line x1="370.30" y1="39.70" x2="370.30" y2="42.10" stroke="#70cc46" stroke-width="0.6"/>
<line x1="372.60" y1="39.70" x2="372.60" y2="42.10" stroke="#70cc46" stroke-width="0.6"/>
<line x1="374.90" y1="39.70" x2="374.90" y2="42.10" stroke="#70cc46" stroke-width="0.6"/>
<line x1="377.20" y1="39.70" x2="377.20" y2="42.10" stroke="#70cc46" stroke-width="0.6"/>
<line x1="340.00" y1="50.50" x2="340.00" y2="52.90" stroke="#cc1420" stroke-width="0.6"/>
<line x1="342.30" y1="50.50" x2="342.30" y2="52.90" stroke="#cc1420" stroke-width="0.6"/>
<line x1="344.60" y1="50.50" x2="344.60" y2="52.90" stroke="#cc1420" stroke-width="0.6"/>
<line x1="346.90" y1="50.50" x2="346.90" y2="52.90" stroke="#cc1420" stroke-width="0.6"/>
<line x1="349.20" y1="50.50" x2="349.20" y2="52.90" stroke="#cc1420" stroke-width="0.6"/>
<line x1="351.50" y1="50.50" x2="351.50" y2="52.90" stroke="#cc1420" stroke-width="0.6"/>
<line x1="353.80" y1="50.50" x2="353.80" y2="52.90" stroke="#cc1420" stroke-width="0.6"/>
<line x1="356.10" y1="50.50" x2="356.10" y2="52.90" stroke="#cc1420" stroke-width="0.6"/>
<line x1="358.40" y1="50.50" x2="358.40" y2="52.90" stroke="#cc1420" stroke-width="0.6"/>
<line x1="360.70" y1="50.50" x2="360.70" y2="52.90" stroke="#cc1420" stroke-width="0.6"/>
<line x1="363.00" y1="50.50" x2="363.00" y2="52.90" stroke="#cc1420" stroke-width="0.6"/>
<line x1="365.30" y1="50.50" x2="365.30" y2="52.90" stroke="#cc1420" stroke-width="0.6"/>
<line x1="367.60" y1="50.50" x2="367.60" y2="52.90" stroke="#cc1420" stroke-width="0.6"/>
<line x1="369.90" y1="50.50" x2="369.90" y2="52.90" stroke="#cc1420" stroke-width="0.6"/>
<line x1="372.20" y1="50.50" x2="372.20" y2="52.90" stroke="#cc1420" stroke-width="0.6"/>
<circle cx="379.80" cy="51.00" r="0.95" fill="#111"/>
<circle cx="383.40" cy="51.00" r="0.95" fill="#111"/>
<line x1="420.50" y1="9.60" x2="420.50" y2="72.90" stroke="#333" stroke-width="0.9"/>
<line x1="420.00" y1="72.40" x2="514.30" y2="72.40" stroke="#333" stroke-width="0.9"/>
<line x1="418.70" y1="9.60" x2="420.50" y2="9.60" stroke="#333" stroke-width="0.8"/>
<text x="418.10" y="11.20" font-size="4.5" font-family='"Liberation Sans", sans-serif' fill="#111" stroke="#111" stroke-width="0.18" font-weight="bold" text-anchor="end">105</text>
<line x1="418.70" y1="25.30" x2="420.50" y2="25.30" stroke="#333" stroke-width="0.8"/>
<text x="418.10" y="26.90" font-size="4.5" font-family='"Liberation Sans", sans-serif' fill="#111" stroke="#111" stroke-width="0.18" font-weight="bold" text-anchor="end">100</text>
<line x1="418.70" y1="41.00" x2="420.50" y2="41.00" stroke="#333" stroke-width="0.8"/>
<text x="418.10" y="42.60" font-size="4.5" font-family='"Liberation Sans", sans-serif' fill="#111" stroke="#111" stroke-width="0.18" font-weight="bold" text-anchor="end">95</text>
<line x1="418.70" y1="56.70" x2="420.50" y2="56.70" stroke="#333" stroke-width="0.8"/>
<text x="418.10" y="58.30" font-size="4.5" font-family='"Liberation Sans", sans-serif' fill="#111" stroke="#111" stroke-width="0.18" font-weight="bold" text-anchor="end">90</text>
<line x1="418.70" y1="72.40" x2="420.50" y2="72.40" stroke="#333" stroke-width="0.8"/>
<text x="418.10" y="74.00" font-size="4.5" font-family='"Liberation Sans", sans-serif' fill="#111" stroke="#111" stroke-width="0.18" font-weight="bold" text-anchor="end">85</text>
<line x1="420.50" y1="72.40" x2="420.50" y2="74.20" stroke="#333" stroke-width="0.8"/>
<text x="420.50" y="78.70" font-size="4.4" font-family='"Liberation Sans", sans-serif' fill="#111" stroke="#111" stroke-width="0.18" font-weight="bold" text-anchor="middle">0</text>
<line x1="443.95" y1="72.40" x2="443.95" y2="74.20" stroke="#333" stroke-width="0.8"/>
<text x="443.95" y="78.70" font-size="4.4" font-family='"Liberation Sans", sans-serif' fill="#111" stroke="#111" stroke-width="0.18" font-weight="bold" text-anchor="middle">50</text>
<line x1="467.40" y1="72.40" x2="467.40" y2="74.20" stroke="#333" stroke-width="0.8"/>
<text x="467.40" y="78.70" font-size="4.4" font-family='"Liberation Sans", sans-serif' fill="#111" stroke="#111" stroke-width="0.18" font-weight="bold" text-anchor="middle">100</text>
<line x1="490.85" y1="72.40" x2="490.85" y2="74.20" stroke="#333" stroke-width="0.8"/>
<text x="490.85" y="78.70" font-size="4.4" font-family='"Liberation Sans", sans-serif' fill="#111" stroke="#111" stroke-width="0.18" font-weight="bold" text-anchor="middle">150</text>
<line x1="514.30" y1="72.40" x2="514.30" y2="74.20" stroke="#333" stroke-width="0.8"/>
<text x="514.30" y="78.70" font-size="4.4" font-family='"Liberation Sans", sans-serif' fill="#111" stroke="#111" stroke-width="0.18" font-weight="bold" text-anchor="middle">200</text>
<text x="467.40" y="86.00" font-size="5.4" font-family='"Liberation Sans", sans-serif' fill="#000" stroke="#000" stroke-width="0.18" font-weight="bold" text-anchor="middle" textLength="16.0" lengthAdjust="spacingAndGlyphs">Weeks</text>
<text x="407.30" y="42.50" font-size="4.7" font-family='"Liberation Sans", sans-serif' fill="#2a2a2a" stroke="#2a2a2a" stroke-width="0.1" font-weight="bold" text-anchor="middle" textLength="73" lengthAdjust="spacingAndGlyphs" transform="rotate(-90 407.30 42.50)">Brain metastasis-free survival</text>
<line x1="447.40" y1="14.00" x2="453.80" y2="14.00" stroke="#70cc46" stroke-width="1.0" opacity="0.7"/>
<line x1="450.60" y1="13.00" x2="450.60" y2="15.00" stroke="#70cc46" stroke-width="0.7" opacity="0.7"/>
<line x1="447.40" y1="20.60" x2="453.80" y2="20.60" stroke="#cc1420" stroke-width="1.0" opacity="0.7"/>
<line x1="450.60" y1="19.60" x2="450.60" y2="21.60" stroke="#cc1420" stroke-width="0.7" opacity="0.7"/>
<text x="458.00" y="15.90" font-size="5.4" font-family='"Liberation Sans", sans-serif' fill="#1a1a1a" stroke="#1a1a1a" stroke-width="0.18">CXCL1 Low</text>
<text x="458.00" y="22.50" font-size="5.4" font-family='"Liberation Sans", sans-serif' fill="#1a1a1a" stroke="#1a1a1a" stroke-width="0.18">CXCL1 High</text>
<polyline points="420.50,25.10 428.00,25.10 428.00,25.30 429.00,25.30 429.00,26.30 438.00,26.30 438.00,26.30 439.50,26.30 439.50,28.50 441.00,28.50 441.00,31.00 442.50,31.00 442.50,33.80 443.80,33.80 443.80,36.20 446.70,36.20 446.70,39.00 455.40,39.00 455.40,39.00 457.00,39.00 457.00,41.50 458.60,41.50 458.60,43.80 460.20,43.80 460.20,45.80 500.00,45.80 500.00,45.80" fill="none" stroke="#70cc46" stroke-width="1.8" stroke-linejoin="miter"/>
<polyline points="420.50,25.10 422.50,25.10 422.50,26.50 424.00,26.50 424.00,28.30 425.20,28.30 425.20,30.50 426.20,30.50 426.20,32.60 427.20,32.60 427.20,34.60 428.20,34.60 428.20,36.50 429.40,36.50 429.40,37.70 433.00,37.70 433.00,39.00 434.60,39.00 434.60,41.00 436.20,41.00 436.20,42.90 438.00,42.90 438.00,43.50 439.50,43.50 439.50,46.00 441.00,46.00 441.00,48.70 442.90,48.70 442.90,52.30 500.40,52.30 500.40,52.30" fill="none" stroke="#cc1420" stroke-width="1.8" stroke-linejoin="miter"/>
<line x1="465.00" y1="44.70" x2="465.00" y2="47.10" stroke="#70cc46" stroke-width="0.6"/>
<line x1="467.30" y1="44.70" x2="467.30" y2="47.10" stroke="#70cc46" stroke-width="0.6"/>
<line x1="469.60" y1="44.70" x2="469.60" y2="47.10" stroke="#70cc46" stroke-width="0.6"/>
<line x1="471.90" y1="44.70" x2="471.90" y2="47.10" stroke="#70cc46" stroke-width="0.6"/>
<line x1="474.20" y1="44.70" x2="474.20" y2="47.10" stroke="#70cc46" stroke-width="0.6"/>
<line x1="476.50" y1="44.70" x2="476.50" y2="47.10" stroke="#70cc46" stroke-width="0.6"/>
<line x1="478.80" y1="44.70" x2="478.80" y2="47.10" stroke="#70cc46" stroke-width="0.6"/>
<line x1="481.10" y1="44.70" x2="481.10" y2="47.10" stroke="#70cc46" stroke-width="0.6"/>
<line x1="483.40" y1="44.70" x2="483.40" y2="47.10" stroke="#70cc46" stroke-width="0.6"/>
<line x1="485.70" y1="44.70" x2="485.70" y2="47.10" stroke="#70cc46" stroke-width="0.6"/>
<line x1="488.00" y1="44.70" x2="488.00" y2="47.10" stroke="#70cc46" stroke-width="0.6"/>
<line x1="490.30" y1="44.70" x2="490.30" y2="47.10" stroke="#70cc46" stroke-width="0.6"/>
<line x1="492.60" y1="44.70" x2="492.60" y2="47.10" stroke="#70cc46" stroke-width="0.6"/>
<line x1="494.90" y1="44.70" x2="494.90" y2="47.10" stroke="#70cc46" stroke-width="0.6"/>
<line x1="497.20" y1="44.70" x2="497.20" y2="47.10" stroke="#70cc46" stroke-width="0.6"/>
<line x1="499.50" y1="44.70" x2="499.50" y2="47.10" stroke="#70cc46" stroke-width="0.6"/>
<line x1="450.00" y1="51.10" x2="450.00" y2="53.50" stroke="#cc1420" stroke-width="0.6"/>
<line x1="452.30" y1="51.10" x2="452.30" y2="53.50" stroke="#cc1420" stroke-width="0.6"/>
<line x1="454.60" y1="51.10" x2="454.60" y2="53.50" stroke="#cc1420" stroke-width="0.6"/>
<line x1="456.90" y1="51.10" x2="456.90" y2="53.50" stroke="#cc1420" stroke-width="0.6"/>
<line x1="459.20" y1="51.10" x2="459.20" y2="53.50" stroke="#cc1420" stroke-width="0.6"/>
<line x1="461.50" y1="51.10" x2="461.50" y2="53.50" stroke="#cc1420" stroke-width="0.6"/>
<line x1="463.80" y1="51.10" x2="463.80" y2="53.50" stroke="#cc1420" stroke-width="0.6"/>
<line x1="466.10" y1="51.10" x2="466.10" y2="53.50" stroke="#cc1420" stroke-width="0.6"/>
<line x1="468.40" y1="51.10" x2="468.40" y2="53.50" stroke="#cc1420" stroke-width="0.6"/>
<line x1="470.70" y1="51.10" x2="470.70" y2="53.50" stroke="#cc1420" stroke-width="0.6"/>
<line x1="473.00" y1="51.10" x2="473.00" y2="53.50" stroke="#cc1420" stroke-width="0.6"/>
<line x1="475.30" y1="51.10" x2="475.30" y2="53.50" stroke="#cc1420" stroke-width="0.6"/>
<line x1="477.60" y1="51.10" x2="477.60" y2="53.50" stroke="#cc1420" stroke-width="0.6"/>
<line x1="479.90" y1="51.10" x2="479.90" y2="53.50" stroke="#cc1420" stroke-width="0.6"/>
<line x1="482.20" y1="51.10" x2="482.20" y2="53.50" stroke="#cc1420" stroke-width="0.6"/>
<line x1="484.50" y1="51.10" x2="484.50" y2="53.50" stroke="#cc1420" stroke-width="0.6"/>
<line x1="486.80" y1="51.10" x2="486.80" y2="53.50" stroke="#cc1420" stroke-width="0.6"/>
<line x1="489.10" y1="51.10" x2="489.10" y2="53.50" stroke="#cc1420" stroke-width="0.6"/>
<line x1="491.40" y1="51.10" x2="491.40" y2="53.50" stroke="#cc1420" stroke-width="0.6"/>
<line x1="493.70" y1="51.10" x2="493.70" y2="53.50" stroke="#cc1420" stroke-width="0.6"/>
<line x1="496.00" y1="51.10" x2="496.00" y2="53.50" stroke="#cc1420" stroke-width="0.6"/>
<line x1="498.30" y1="51.10" x2="498.30" y2="53.50" stroke="#cc1420" stroke-width="0.6"/>
<circle cx="504.70" cy="52.50" r="0.95" fill="#111"/>
<circle cx="508.30" cy="52.50" r="0.95" fill="#111"/>
<text x="141.80" y="95.30" font-size="12.3" font-family='"Liberation Sans", sans-serif' fill="#000" stroke="#000" stroke-width="0.2" font-weight="bold">C</text>
<line x1="177.70" y1="91.70" x2="177.70" y2="159.90" stroke="#222" stroke-width="0.9"/>
<line x1="177.30" y1="159.50" x2="280.50" y2="159.50" stroke="#222" stroke-width="0.9"/>
<line x1="175.90" y1="159.50" x2="177.70" y2="159.50" stroke="#222" stroke-width="0.8"/>
<text x="175.20" y="161.10" font-size="4.6" font-family='"Liberation Sans", sans-serif' fill="#222" stroke="#222" stroke-width="0.18" font-weight="bold" text-anchor="end">0.0</text>
<line x1="175.90" y1="142.55" x2="177.70" y2="142.55" stroke="#222" stroke-width="0.8"/>
<text x="175.20" y="144.15" font-size="4.6" font-family='"Liberation Sans", sans-serif' fill="#222" stroke="#222" stroke-width="0.18" font-weight="bold" text-anchor="end">0.5</text>
<line x1="175.90" y1="125.60" x2="177.70" y2="125.60" stroke="#222" stroke-width="0.8"/>
<text x="175.20" y="127.20" font-size="4.6" font-family='"Liberation Sans", sans-serif' fill="#222" stroke="#222" stroke-width="0.18" font-weight="bold" text-anchor="end">1.0</text>
<line x1="175.90" y1="108.65" x2="177.70" y2="108.65" stroke="#222" stroke-width="0.8"/>
<text x="175.20" y="110.25" font-size="4.6" font-family='"Liberation Sans", sans-serif' fill="#222" stroke="#222" stroke-width="0.18" font-weight="bold" text-anchor="end">1.5</text>
<line x1="175.90" y1="91.70" x2="177.70" y2="91.70" stroke="#222" stroke-width="0.8"/>
<text x="175.20" y="93.30" font-size="4.6" font-family='"Liberation Sans", sans-serif' fill="#222" stroke="#222" stroke-width="0.18" font-weight="bold" text-anchor="end">2.0</text>
<rect x="181.00" y="113.00" width="19.00" height="46.50" fill="#000"/>
<line x1="190.50" y1="109.20" x2="190.50" y2="113.00" stroke="#111" stroke-width="0.9"/>
<line x1="186.90" y1="109.20" x2="194.10" y2="109.20" stroke="#111" stroke-width="0.9"/>
<rect x="207.00" y="156.60" width="17.00" height="2.90" fill="#000"/>
<circle cx="214.10" cy="153.70" r="0.85" fill="#111"/>
<circle cx="217.50" cy="153.70" r="0.85" fill="#111"/>
<rect x="232.45" y="135.75" width="17.10" height="23.75" fill="#fff" stroke="#111" stroke-width="0.9"/>
<line x1="241.00" y1="131.10" x2="241.00" y2="135.30" stroke="#111" stroke-width="0.9"/>
<line x1="236.20" y1="131.10" x2="245.80" y2="131.10" stroke="#111" stroke-width="0.9"/>
<rect x="257.45" y="158.35" width="16.60" height="1.15" fill="#fff" stroke="#111" stroke-width="0.9"/>
<circle cx="264.50" cy="154.40" r="0.85" fill="#111"/>
<circle cx="267.90" cy="154.40" r="0.85" fill="#111"/>
<text x="172.30" y="168.00" font-size="5.6" font-family='"Liberation Sans", sans-serif' fill="#111" stroke="#111" stroke-width="0.18" font-weight="bold">Dox</text>
<line x1="190.50" y1="159.50" x2="190.50" y2="161.00" stroke="#222" stroke-width="0.7"/>
<text x="190.50" y="167.60" font-size="5.0" font-family='"Liberation Sans", sans-serif' fill="#111" stroke="#111" stroke-width="0.18" font-weight="bold" text-anchor="middle">–</text>
<line x1="215.50" y1="159.50" x2="215.50" y2="161.00" stroke="#222" stroke-width="0.7"/>
<text x="215.50" y="167.60" font-size="5.0" font-family='"Liberation Sans", sans-serif' fill="#111" stroke="#111" stroke-width="0.18" font-weight="bold" text-anchor="middle">+</text>
<line x1="241.00" y1="159.50" x2="241.00" y2="161.00" stroke="#222" stroke-width="0.7"/>
<text x="241.00" y="167.60" font-size="5.0" font-family='"Liberation Sans", sans-serif' fill="#111" stroke="#111" stroke-width="0.18" font-weight="bold" text-anchor="middle">–</text>
<line x1="266.00" y1="159.50" x2="266.00" y2="161.00" stroke="#222" stroke-width="0.7"/>
<text x="266.00" y="167.60" font-size="5.0" font-family='"Liberation Sans", sans-serif' fill="#111" stroke="#111" stroke-width="0.18" font-weight="bold" text-anchor="middle">+</text>
<rect x="184.40" y="92.00" width="3.20" height="3.80" fill="#000"/>
<rect x="184.85" y="99.05" width="2.50" height="3.00" fill="#fff" stroke="#000" stroke-width="0.9"/>
<text x="189.70" y="95.35" font-size="4.3" font-family='"Liberation Sans", sans-serif' fill="#111" stroke="#111" stroke-width="0.18" font-weight="bold" textLength="38.2" lengthAdjust="spacingAndGlyphs">231BrM/Dox-shMET</text>
<text x="189.70" y="101.95" font-size="4.3" font-family='"Liberation Sans", sans-serif' fill="#111" stroke="#111" stroke-width="0.18" font-weight="bold" textLength="39.8" lengthAdjust="spacingAndGlyphs">SKBrM3/Dox-shMET</text>
<text x="159.00" y="127.80" font-size="5.0" font-family='"Liberation Sans", sans-serif' fill="#111" stroke="#111" stroke-width="0.18" font-weight="bold" text-anchor="middle" textLength="31" lengthAdjust="spacingAndGlyphs" transform="rotate(-90 159.00 127.80)">IL1β mRNA</text>
<text x="163.40" y="127.80" font-size="5.0" font-family='"Liberation Sans", sans-serif' fill="#111" stroke="#111" stroke-width="0.18" font-weight="bold" text-anchor="middle" textLength="37.5" lengthAdjust="spacingAndGlyphs" transform="rotate(-90 163.40 127.80)">(relative units)</text>
<line x1="298.20" y1="95.30" x2="298.20" y2="161.70" stroke="#222" stroke-width="0.9"/>
<line x1="297.80" y1="161.30" x2="399.00" y2="161.30" stroke="#222" stroke-width="0.9"/>
<line x1="296.40" y1="161.30" x2="298.20" y2="161.30" stroke="#222" stroke-width="0.8"/>
<text x="295.70" y="162.90" font-size="4.6" font-family='"Liberation Sans", sans-serif' fill="#222" stroke="#222" stroke-width="0.18" font-weight="bold" text-anchor="end">0</text>
<line x1="296.40" y1="148.10" x2="298.20" y2="148.10" stroke="#222" stroke-width="0.8"/>
<text x="295.70" y="149.70" font-size="4.6" font-family='"Liberation Sans", sans-serif' fill="#222" stroke="#222" stroke-width="0.18" font-weight="bold" text-anchor="end">2</text>
<line x1="296.40" y1="134.90" x2="298.20" y2="134.90" stroke="#222" stroke-width="0.8"/>
<text x="295.70" y="136.50" font-size="4.6" font-family='"Liberation Sans", sans-serif' fill="#222" stroke="#222" stroke-width="0.18" font-weight="bold" text-anchor="end">4</text>
<line x1="296.40" y1="121.70" x2="298.20" y2="121.70" stroke="#222" stroke-width="0.8"/>
<text x="295.70" y="123.30" font-size="4.6" font-family='"Liberation Sans", sans-serif' fill="#222" stroke="#222" stroke-width="0.18" font-weight="bold" text-anchor="end">6</text>
<line x1="296.40" y1="108.50" x2="298.20" y2="108.50" stroke="#222" stroke-width="0.8"/>
<text x="295.70" y="110.10" font-size="4.6" font-family='"Liberation Sans", sans-serif' fill="#222" stroke="#222" stroke-width="0.18" font-weight="bold" text-anchor="end">8</text>
<line x1="296.40" y1="95.30" x2="298.20" y2="95.30" stroke="#222" stroke-width="0.8"/>
<text x="295.70" y="96.90" font-size="4.6" font-family='"Liberation Sans", sans-serif' fill="#222" stroke="#222" stroke-width="0.18" font-weight="bold" text-anchor="end">10</text>
<rect x="302.00" y="117.90" width="17.40" height="43.40" fill="#000"/>
<line x1="310.70" y1="113.60" x2="310.70" y2="117.90" stroke="#111" stroke-width="0.9"/>
<line x1="307.50" y1="113.60" x2="313.90" y2="113.60" stroke="#111" stroke-width="0.9"/>
<rect x="326.80" y="158.00" width="15.90" height="3.30" fill="#000"/>
<circle cx="333.90" cy="155.30" r="0.85" fill="#111"/>
<circle cx="337.30" cy="155.30" r="0.85" fill="#111"/>
<rect x="351.05" y="105.65" width="16.20" height="55.65" fill="#fff" stroke="#111" stroke-width="0.9"/>
<line x1="359.15" y1="102.80" x2="359.15" y2="105.20" stroke="#111" stroke-width="0.9"/>
<line x1="355.55" y1="102.80" x2="362.75" y2="102.80" stroke="#111" stroke-width="0.9"/>
<rect x="375.75" y="158.45" width="14.80" height="2.85" fill="#fff" stroke="#111" stroke-width="0.9"/>
<circle cx="382.30" cy="154.90" r="0.85" fill="#111"/>
<circle cx="385.70" cy="154.90" r="0.85" fill="#111"/>
<text x="292.00" y="168.00" font-size="5.6" font-family='"Liberation Sans", sans-serif' fill="#111" stroke="#111" stroke-width="0.18" font-weight="bold">Dox</text>
<line x1="310.50" y1="161.30" x2="310.50" y2="162.80" stroke="#222" stroke-width="0.7"/>
<text x="310.50" y="167.60" font-size="5.0" font-family='"Liberation Sans", sans-serif' fill="#111" stroke="#111" stroke-width="0.18" font-weight="bold" text-anchor="middle">–</text>
<line x1="335.00" y1="161.30" x2="335.00" y2="162.80" stroke="#222" stroke-width="0.7"/>
<text x="335.00" y="167.60" font-size="5.0" font-family='"Liberation Sans", sans-serif' fill="#111" stroke="#111" stroke-width="0.18" font-weight="bold" text-anchor="middle">+</text>
<line x1="359.00" y1="161.30" x2="359.00" y2="162.80" stroke="#222" stroke-width="0.7"/>
<text x="359.00" y="167.60" font-size="5.0" font-family='"Liberation Sans", sans-serif' fill="#111" stroke="#111" stroke-width="0.18" font-weight="bold" text-anchor="middle">–</text>
<line x1="384.00" y1="161.30" x2="384.00" y2="162.80" stroke="#222" stroke-width="0.7"/>
<text x="384.00" y="167.60" font-size="5.0" font-family='"Liberation Sans", sans-serif' fill="#111" stroke="#111" stroke-width="0.18" font-weight="bold" text-anchor="middle">+</text>
<rect x="303.60" y="92.00" width="3.20" height="3.80" fill="#000"/>
<rect x="304.05" y="99.35" width="2.50" height="3.00" fill="#fff" stroke="#000" stroke-width="0.9"/>
<text x="309.20" y="95.35" font-size="4.3" font-family='"Liberation Sans", sans-serif' fill="#111" stroke="#111" stroke-width="0.18" font-weight="bold" textLength="38.1" lengthAdjust="spacingAndGlyphs">231BrM/Dox-shMET</text>
<text x="309.20" y="102.25" font-size="4.3" font-family='"Liberation Sans", sans-serif' fill="#111" stroke="#111" stroke-width="0.18" font-weight="bold" textLength="38.7" lengthAdjust="spacingAndGlyphs">SKBrM3/Dox-shMET</text>
<text x="283.30" y="124.00" font-size="5.0" font-family='"Liberation Sans", sans-serif' fill="#111" stroke="#111" stroke-width="0.18" font-weight="bold" text-anchor="middle" textLength="22" lengthAdjust="spacingAndGlyphs" transform="rotate(-90 283.30 124.00)">IL8 mRNA</text>
<text x="287.80" y="126.50" font-size="5.0" font-family='"Liberation Sans", sans-serif' fill="#111" stroke="#111" stroke-width="0.18" font-weight="bold" text-anchor="middle" textLength="31.5" lengthAdjust="spacingAndGlyphs" transform="rotate(-90 287.80 126.50)">(relative units)</text>
<line x1="417.20" y1="92.30" x2="417.20" y2="159.70" stroke="#222" stroke-width="0.9"/>
<line x1="416.80" y1="159.30" x2="519.50" y2="159.30" stroke="#222" stroke-width="0.9"/>
<line x1="415.40" y1="159.30" x2="417.20" y2="159.30" stroke="#222" stroke-width="0.8"/>
<text x="414.70" y="160.90" font-size="4.6" font-family='"Liberation Sans", sans-serif' fill="#222" stroke="#222" stroke-width="0.18" font-weight="bold" text-anchor="end">0</text>
<line x1="415.40" y1="145.90" x2="417.20" y2="145.90" stroke="#222" stroke-width="0.8"/>
<text x="414.70" y="147.50" font-size="4.6" font-family='"Liberation Sans", sans-serif' fill="#222" stroke="#222" stroke-width="0.18" font-weight="bold" text-anchor="end">2</text>
<line x1="415.40" y1="132.50" x2="417.20" y2="132.50" stroke="#222" stroke-width="0.8"/>
<text x="414.70" y="134.10" font-size="4.6" font-family='"Liberation Sans", sans-serif' fill="#222" stroke="#222" stroke-width="0.18" font-weight="bold" text-anchor="end">4</text>
<line x1="415.40" y1="119.10" x2="417.20" y2="119.10" stroke="#222" stroke-width="0.8"/>
<text x="414.70" y="120.70" font-size="4.6" font-family='"Liberation Sans", sans-serif' fill="#222" stroke="#222" stroke-width="0.18" font-weight="bold" text-anchor="end">6</text>
<line x1="415.40" y1="105.70" x2="417.20" y2="105.70" stroke="#222" stroke-width="0.8"/>
<text x="414.70" y="107.30" font-size="4.6" font-family='"Liberation Sans", sans-serif' fill="#222" stroke="#222" stroke-width="0.18" font-weight="bold" text-anchor="end">8</text>
<line x1="415.40" y1="92.30" x2="417.20" y2="92.30" stroke="#222" stroke-width="0.8"/>
<text x="414.70" y="93.90" font-size="4.6" font-family='"Liberation Sans", sans-serif' fill="#222" stroke="#222" stroke-width="0.18" font-weight="bold" text-anchor="end">10</text>
<rect x="421.60" y="107.20" width="18.40" height="52.10" fill="#000"/>
<line x1="430.80" y1="99.60" x2="430.80" y2="107.20" stroke="#111" stroke-width="0.9"/>
<line x1="426.50" y1="99.60" x2="435.10" y2="99.60" stroke="#111" stroke-width="0.9"/>
<rect x="447.20" y="153.70" width="17.00" height="5.60" fill="#000"/>
<circle cx="454.10" cy="151.10" r="0.85" fill="#111"/>
<circle cx="457.50" cy="151.10" r="0.85" fill="#111"/>
<rect x="472.45" y="144.85" width="16.70" height="14.45" fill="#fff" stroke="#111" stroke-width="0.9"/>
<line x1="480.80" y1="143.20" x2="480.80" y2="144.40" stroke="#111" stroke-width="0.9"/>
<line x1="477.60" y1="143.20" x2="484.00" y2="143.20" stroke="#111" stroke-width="0.9"/>
<rect x="497.45" y="157.45" width="16.70" height="1.85" fill="#fff" stroke="#111" stroke-width="0.9"/>
<circle cx="504.30" cy="154.30" r="0.85" fill="#111"/>
<circle cx="507.70" cy="154.30" r="0.85" fill="#111"/>
<text x="411.60" y="168.00" font-size="5.6" font-family='"Liberation Sans", sans-serif' fill="#111" stroke="#111" stroke-width="0.18" font-weight="bold">Dox</text>
<line x1="430.40" y1="159.30" x2="430.40" y2="160.80" stroke="#222" stroke-width="0.7"/>
<text x="430.40" y="167.60" font-size="5.0" font-family='"Liberation Sans", sans-serif' fill="#111" stroke="#111" stroke-width="0.18" font-weight="bold" text-anchor="middle">–</text>
<line x1="455.60" y1="159.30" x2="455.60" y2="160.80" stroke="#222" stroke-width="0.7"/>
<text x="455.60" y="167.60" font-size="5.0" font-family='"Liberation Sans", sans-serif' fill="#111" stroke="#111" stroke-width="0.18" font-weight="bold" text-anchor="middle">+</text>
<line x1="481.00" y1="159.30" x2="481.00" y2="160.80" stroke="#222" stroke-width="0.7"/>
<text x="481.00" y="167.60" font-size="5.0" font-family='"Liberation Sans", sans-serif' fill="#111" stroke="#111" stroke-width="0.18" font-weight="bold" text-anchor="middle">–</text>
<line x1="506.20" y1="159.30" x2="506.20" y2="160.80" stroke="#222" stroke-width="0.7"/>
<text x="506.20" y="167.60" font-size="5.0" font-family='"Liberation Sans", sans-serif' fill="#111" stroke="#111" stroke-width="0.18" font-weight="bold" text-anchor="middle">+</text>
<rect x="470.40" y="92.00" width="3.20" height="3.80" fill="#000"/>
<rect x="470.85" y="99.05" width="2.50" height="3.00" fill="#fff" stroke="#000" stroke-width="0.9"/>
<text x="474.40" y="95.35" font-size="4.3" font-family='"Liberation Sans", sans-serif' fill="#111" stroke="#111" stroke-width="0.18" font-weight="bold" textLength="39.4" lengthAdjust="spacingAndGlyphs">231BrM/Dox-shMET</text>
<text x="474.40" y="101.95" font-size="4.3" font-family='"Liberation Sans", sans-serif' fill="#111" stroke="#111" stroke-width="0.18" font-weight="bold" textLength="40.0" lengthAdjust="spacingAndGlyphs">SKBrM3/Dox-shMET</text>
<text x="401.30" y="125.30" font-size="5.0" font-family='"Liberation Sans", sans-serif' fill="#111" stroke="#111" stroke-width="0.18" font-weight="bold" text-anchor="middle" textLength="31" lengthAdjust="spacingAndGlyphs" transform="rotate(-90 401.30 125.30)">CXCL1 mRNA</text>
<text x="406.30" y="124.00" font-size="5.0" font-family='"Liberation Sans", sans-serif' fill="#111" stroke="#111" stroke-width="0.18" font-weight="bold" text-anchor="middle" textLength="28.3" lengthAdjust="spacingAndGlyphs" transform="rotate(-90 406.30 124.00)">(relative units)</text>
<text x="142.50" y="187.60" font-size="12.3" font-family='"Liberation Sans", sans-serif' fill="#000" stroke="#000" stroke-width="0.2" font-weight="bold">D</text>
<text x="166.90" y="185.60" font-size="6.6" font-family='"Liberation Sans", sans-serif' fill="#111" stroke="#111" stroke-width="0.18" font-weight="bold" textLength="94.7" lengthAdjust="spacingAndGlyphs">Patients with brain metastases</text>
<text x="174.60" y="194.90" font-size="5.5" font-family='"Liberation Sans", sans-serif' fill="#333" stroke="#333" stroke-width="0.18" text-anchor="middle">IL1β</text>
<text x="212.20" y="194.90" font-size="5.5" font-family='"Liberation Sans", sans-serif' fill="#333" stroke="#333" stroke-width="0.18" text-anchor="middle">IL8</text>
<text x="245.20" y="194.90" font-size="5.5" font-family='"Liberation Sans", sans-serif' fill="#333" stroke="#333" stroke-width="0.18" text-anchor="middle">CXCL1</text>
<line x1="159.40" y1="191.70" x2="159.40" y2="260.80" stroke="#222" stroke-width="0.9"/>
<line x1="159.00" y1="260.40" x2="262.90" y2="260.40" stroke="#222" stroke-width="0.9"/>
<line x1="157.60" y1="254.00" x2="159.40" y2="254.00" stroke="#222" stroke-width="0.8"/>
<text x="156.90" y="255.60" font-size="4.8" font-family='"Liberation Sans", sans-serif' fill="#222" stroke="#222" stroke-width="0.18" font-weight="bold" text-anchor="end">4</text>
<line x1="157.60" y1="240.12" x2="159.40" y2="240.12" stroke="#222" stroke-width="0.8"/>
<text x="156.90" y="241.72" font-size="4.8" font-family='"Liberation Sans", sans-serif' fill="#222" stroke="#222" stroke-width="0.18" font-weight="bold" text-anchor="end">6</text>
<line x1="157.60" y1="226.25" x2="159.40" y2="226.25" stroke="#222" stroke-width="0.8"/>
<text x="156.90" y="227.85" font-size="4.8" font-family='"Liberation Sans", sans-serif' fill="#222" stroke="#222" stroke-width="0.18" font-weight="bold" text-anchor="end">8</text>
<line x1="157.60" y1="212.38" x2="159.40" y2="212.38" stroke="#222" stroke-width="0.8"/>
<text x="156.90" y="213.97" font-size="4.8" font-family='"Liberation Sans", sans-serif' fill="#222" stroke="#222" stroke-width="0.18" font-weight="bold" text-anchor="end">10</text>
<line x1="157.60" y1="198.50" x2="159.40" y2="198.50" stroke="#222" stroke-width="0.8"/>
<text x="156.90" y="200.10" font-size="4.8" font-family='"Liberation Sans", sans-serif' fill="#222" stroke="#222" stroke-width="0.18" font-weight="bold" text-anchor="end">12</text>
<text x="141.00" y="226.00" font-size="5.0" font-family='"Liberation Sans", sans-serif' fill="#555" stroke="#555" stroke-width="0.18" font-weight="bold" text-anchor="middle" textLength="44" lengthAdjust="spacingAndGlyphs" transform="rotate(-90 141.00 226.00)">mRNA Expression</text>
<text x="148.40" y="227.00" font-size="5.0" font-family='"Liberation Sans", sans-serif' fill="#555" stroke="#555" stroke-width="0.18" font-weight="bold" text-anchor="middle" textLength="36" lengthAdjust="spacingAndGlyphs" transform="rotate(-90 148.40 227.00)">(relative units)</text>
<line x1="167.85" y1="221.60" x2="167.85" y2="228.90" stroke="#222" stroke-width="0.9"/>
<line x1="167.85" y1="233.20" x2="167.85" y2="240.20" stroke="#222" stroke-width="0.9"/>
<line x1="165.20" y1="221.60" x2="170.50" y2="221.60" stroke="#222" stroke-width="0.9"/>
<line x1="165.20" y1="240.20" x2="170.50" y2="240.20" stroke="#222" stroke-width="0.9"/>
<rect x="162.40" y="228.90" width="10.90" height="4.30" fill="#fff" stroke="#222" stroke-width="0.9"/>
<line x1="162.40" y1="231.00" x2="173.30" y2="231.00" stroke="#222" stroke-width="0.9"/>
<line x1="184.75" y1="199.40" x2="184.75" y2="223.80" stroke="#222" stroke-width="0.9"/>
<line x1="184.75" y1="229.60" x2="184.75" y2="234.90" stroke="#222" stroke-width="0.9"/>
<line x1="181.75" y1="199.40" x2="187.75" y2="199.40" stroke="#222" stroke-width="0.9"/>
<line x1="181.75" y1="234.90" x2="187.75" y2="234.90" stroke="#222" stroke-width="0.9"/>
<rect x="178.80" y="223.80" width="11.90" height="5.80" fill="#fff" stroke="#222" stroke-width="0.9"/>
<line x1="178.80" y1="226.80" x2="190.70" y2="226.80" stroke="#222" stroke-width="0.9"/>
<circle cx="184.70" cy="196.50" r="0.85" fill="#111"/>
<circle cx="188.10" cy="196.50" r="0.85" fill="#111"/>
<line x1="202.20" y1="220.70" x2="202.20" y2="231.70" stroke="#8a8a8a" stroke-width="0.9"/>
<line x1="202.20" y1="241.30" x2="202.20" y2="251.50" stroke="#8a8a8a" stroke-width="0.9"/>
<line x1="199.00" y1="220.70" x2="205.40" y2="220.70" stroke="#8a8a8a" stroke-width="0.9"/>
<line x1="199.00" y1="251.50" x2="205.40" y2="251.50" stroke="#8a8a8a" stroke-width="0.9"/>
<rect x="196.00" y="231.70" width="12.40" height="9.60" fill="#fff" stroke="#8a8a8a" stroke-width="0.9"/>
<line x1="196.00" y1="238.70" x2="208.40" y2="238.70" stroke="#8a8a8a" stroke-width="0.9"/>
<line x1="219.50" y1="209.50" x2="219.50" y2="222.60" stroke="#8a8a8a" stroke-width="0.9"/>
<line x1="219.50" y1="236.60" x2="219.50" y2="248.10" stroke="#8a8a8a" stroke-width="0.9"/>
<line x1="216.30" y1="209.50" x2="222.70" y2="209.50" stroke="#8a8a8a" stroke-width="0.9"/>
<line x1="216.30" y1="248.10" x2="222.70" y2="248.10" stroke="#8a8a8a" stroke-width="0.9"/>
<rect x="213.60" y="222.60" width="11.80" height="14.00" fill="#fff" stroke="#8a8a8a" stroke-width="0.9"/>
<line x1="213.60" y1="233.20" x2="225.40" y2="233.20" stroke="#8a8a8a" stroke-width="0.9"/>
<circle cx="218.80" cy="206.90" r="0.85" fill="#111"/>
<circle cx="222.20" cy="206.90" r="0.85" fill="#111"/>
<line x1="237.15" y1="211.60" x2="237.15" y2="233.20" stroke="#9aa624" stroke-width="0.9"/>
<line x1="237.15" y1="241.70" x2="237.15" y2="253.40" stroke="#9aa624" stroke-width="0.9"/>
<line x1="233.95" y1="211.60" x2="240.35" y2="211.60" stroke="#9aa624" stroke-width="0.9"/>
<line x1="233.95" y1="253.40" x2="240.35" y2="253.40" stroke="#9aa624" stroke-width="0.9"/>
<rect x="231.40" y="233.20" width="11.50" height="8.50" fill="#fff" stroke="#9aa624" stroke-width="0.9"/>
<line x1="231.40" y1="237.40" x2="242.90" y2="237.40" stroke="#9aa624" stroke-width="0.9"/>
<line x1="253.85" y1="210.10" x2="253.85" y2="223.80" stroke="#9aa624" stroke-width="0.9"/>
<line x1="253.85" y1="237.00" x2="253.85" y2="241.30" stroke="#9aa624" stroke-width="0.9"/>
<line x1="250.75" y1="210.10" x2="256.95" y2="210.10" stroke="#9aa624" stroke-width="0.9"/>
<line x1="250.75" y1="241.30" x2="256.95" y2="241.30" stroke="#9aa624" stroke-width="0.9"/>
<rect x="248.20" y="223.80" width="11.30" height="13.20" fill="#fff" stroke="#9aa624" stroke-width="0.9"/>
<line x1="248.20" y1="232.30" x2="259.50" y2="232.30" stroke="#9aa624" stroke-width="0.9"/>
<circle cx="254.10" cy="207.60" r="0.85" fill="#111"/>
<circle cx="257.50" cy="207.60" r="0.85" fill="#111"/>
<line x1="167.80" y1="260.40" x2="167.80" y2="261.90" stroke="#222" stroke-width="0.7"/>
<text x="171.60" y="267.00" font-size="5.7" font-family='"Liberation Sans", sans-serif' fill="#111" stroke="#111" stroke-width="0.18" font-weight="bold" text-anchor="end" transform="rotate(-30 171.60 267.00)">c-Met Low</text>
<line x1="185.60" y1="260.40" x2="185.60" y2="261.90" stroke="#222" stroke-width="0.7"/>
<text x="189.40" y="267.00" font-size="5.7" font-family='"Liberation Sans", sans-serif' fill="#111" stroke="#111" stroke-width="0.18" font-weight="bold" text-anchor="end" transform="rotate(-30 189.40 267.00)">c-Met High</text>
<line x1="202.20" y1="260.40" x2="202.20" y2="261.90" stroke="#222" stroke-width="0.7"/>
<text x="206.00" y="267.00" font-size="5.7" font-family='"Liberation Sans", sans-serif' fill="#111" stroke="#111" stroke-width="0.18" font-weight="bold" text-anchor="end" transform="rotate(-30 206.00 267.00)">c-Met Low</text>
<line x1="219.50" y1="260.40" x2="219.50" y2="261.90" stroke="#222" stroke-width="0.7"/>
<text x="223.30" y="267.00" font-size="5.7" font-family='"Liberation Sans", sans-serif' fill="#111" stroke="#111" stroke-width="0.18" font-weight="bold" text-anchor="end" transform="rotate(-30 223.30 267.00)">c-Met High</text>
<line x1="237.10" y1="260.40" x2="237.10" y2="261.90" stroke="#222" stroke-width="0.7"/>
<text x="240.90" y="267.00" font-size="5.7" font-family='"Liberation Sans", sans-serif' fill="#111" stroke="#111" stroke-width="0.18" font-weight="bold" text-anchor="end" transform="rotate(-30 240.90 267.00)">c-Met Low</text>
<line x1="253.80" y1="260.40" x2="253.80" y2="261.90" stroke="#222" stroke-width="0.7"/>
<text x="257.60" y="267.00" font-size="5.7" font-family='"Liberation Sans", sans-serif' fill="#111" stroke="#111" stroke-width="0.18" font-weight="bold" text-anchor="end" transform="rotate(-30 257.60 267.00)">c-Met High</text>
<text x="272.20" y="187.90" font-size="12.3" font-family='"Liberation Sans", sans-serif' fill="#000" stroke="#000" stroke-width="0.2" font-weight="bold">E</text>
<line x1="290.90" y1="190.20" x2="290.90" y2="260.80" stroke="#222" stroke-width="0.9"/>
<line x1="290.50" y1="260.40" x2="394.30" y2="260.40" stroke="#222" stroke-width="0.9"/>
<line x1="289.10" y1="260.40" x2="290.90" y2="260.40" stroke="#222" stroke-width="0.8"/>
<text x="287.70" y="262.00" font-size="4.8" font-family='"Liberation Sans", sans-serif' fill="#222" stroke="#222" stroke-width="0.18" font-weight="bold" text-anchor="end">0</text>
<line x1="289.10" y1="237.00" x2="290.90" y2="237.00" stroke="#222" stroke-width="0.8"/>
<text x="287.70" y="238.60" font-size="4.8" font-family='"Liberation Sans", sans-serif' fill="#222" stroke="#222" stroke-width="0.18" font-weight="bold" text-anchor="end">2</text>
<line x1="289.10" y1="213.60" x2="290.90" y2="213.60" stroke="#222" stroke-width="0.8"/>
<text x="287.70" y="215.20" font-size="4.8" font-family='"Liberation Sans", sans-serif' fill="#222" stroke="#222" stroke-width="0.18" font-weight="bold" text-anchor="end">4</text>
<line x1="289.10" y1="190.20" x2="290.90" y2="190.20" stroke="#222" stroke-width="0.8"/>
<text x="287.70" y="191.80" font-size="4.8" font-family='"Liberation Sans", sans-serif' fill="#222" stroke="#222" stroke-width="0.18" font-weight="bold" text-anchor="end">6</text>
<text x="276.10" y="226.50" font-size="5.0" font-family='"Liberation Sans", sans-serif' fill="#333" stroke="#333" stroke-width="0.18" font-weight="bold" text-anchor="middle" textLength="46" lengthAdjust="spacingAndGlyphs" transform="rotate(-90 276.10 226.50)">mRNA Expression</text>
<text x="282.30" y="224.20" font-size="5.0" font-family='"Liberation Sans", sans-serif' fill="#333" stroke="#333" stroke-width="0.18" font-weight="bold" text-anchor="middle" textLength="31" lengthAdjust="spacingAndGlyphs" transform="rotate(-90 282.30 224.20)">(relative units)</text>
<text x="308.50" y="197.30" font-size="5.5" font-family='"Liberation Sans", sans-serif' fill="#333" stroke="#333" stroke-width="0.18" text-anchor="middle">IL1β</text>
<text x="347.00" y="197.30" font-size="5.5" font-family='"Liberation Sans", sans-serif' fill="#333" stroke="#333" stroke-width="0.18" text-anchor="middle">IL8</text>
<text x="381.50" y="197.30" font-size="5.5" font-family='"Liberation Sans", sans-serif' fill="#333" stroke="#333" stroke-width="0.18" text-anchor="middle">CXCL1</text>
<rect x="292.50" y="259.60" width="8.50" height="0.80" fill="#000"/>
<rect x="303.60" y="229.60" width="8.60" height="30.80" fill="#000"/>
<line x1="307.90" y1="222.60" x2="307.90" y2="229.60" stroke="#111" stroke-width="0.9"/>
<line x1="306.00" y1="222.60" x2="309.80" y2="222.60" stroke="#111" stroke-width="0.9"/>
<circle cx="306.30" cy="219.40" r="0.85" fill="#111"/>
<circle cx="309.70" cy="219.40" r="0.85" fill="#111"/>
<rect x="314.80" y="207.20" width="8.60" height="53.20" fill="#000"/>
<line x1="319.10" y1="202.30" x2="319.10" y2="207.20" stroke="#111" stroke-width="0.9"/>
<line x1="317.20" y1="202.30" x2="321.00" y2="202.30" stroke="#111" stroke-width="0.9"/>
<circle cx="317.90" cy="199.70" r="0.85" fill="#111"/>
<circle cx="321.30" cy="199.70" r="0.85" fill="#111"/>
<rect x="327.25" y="258.75" width="6.90" height="1.65" fill="#fff" stroke="#111" stroke-width="0.9"/>
<rect x="338.85" y="240.05" width="6.90" height="20.35" fill="#fff" stroke="#111" stroke-width="0.9"/>
<line x1="342.30" y1="236.40" x2="342.30" y2="239.60" stroke="#111" stroke-width="0.9"/>
<line x1="340.40" y1="236.40" x2="344.20" y2="236.40" stroke="#111" stroke-width="0.9"/>
<circle cx="340.50" cy="234.70" r="0.85" fill="#111"/>
<circle cx="343.90" cy="234.70" r="0.85" fill="#111"/>
<rect x="350.85" y="236.65" width="7.30" height="23.75" fill="#fff" stroke="#111" stroke-width="0.9"/>
<line x1="354.50" y1="228.30" x2="354.50" y2="236.20" stroke="#111" stroke-width="0.9"/>
<line x1="352.60" y1="228.30" x2="356.40" y2="228.30" stroke="#111" stroke-width="0.9"/>
<circle cx="352.80" cy="225.50" r="0.85" fill="#111"/>
<circle cx="356.20" cy="225.50" r="0.85" fill="#111"/>
<rect x="362.30" y="259.80" width="8.10" height="0.60" fill="#6f9a1c"/>
<rect x="373.00" y="250.30" width="8.20" height="10.10" fill="#6f9a1c"/>
<circle cx="375.40" cy="247.50" r="0.85" fill="#111"/>
<circle cx="378.80" cy="247.50" r="0.85" fill="#111"/>
<rect x="384.20" y="243.60" width="8.50" height="16.80" fill="#6f9a1c"/>
<circle cx="386.80" cy="240.90" r="0.85" fill="#111"/>
<circle cx="390.20" cy="240.90" r="0.85" fill="#111"/>
<line x1="296.80" y1="260.40" x2="296.80" y2="261.90" stroke="#222" stroke-width="0.7"/>
<text x="299.60" y="267.00" font-size="5.0" font-family='"Liberation Sans", sans-serif' fill="#111" stroke="#111" stroke-width="0.18" font-weight="bold" text-anchor="end" transform="rotate(-33 299.60 267.00)">MDA231</text>
<line x1="307.90" y1="260.40" x2="307.90" y2="261.90" stroke="#222" stroke-width="0.7"/>
<text x="310.70" y="267.00" font-size="5.0" font-family='"Liberation Sans", sans-serif' fill="#111" stroke="#111" stroke-width="0.18" font-weight="bold" text-anchor="end" transform="rotate(-33 310.70 267.00)">231BrM</text>
<line x1="319.10" y1="260.40" x2="319.10" y2="261.90" stroke="#222" stroke-width="0.7"/>
<text x="321.90" y="267.00" font-size="5.0" font-family='"Liberation Sans", sans-serif' fill="#111" stroke="#111" stroke-width="0.18" font-weight="bold" text-anchor="end" transform="rotate(-33 321.90 267.00)">231HM</text>
<line x1="330.70" y1="260.40" x2="330.70" y2="261.90" stroke="#222" stroke-width="0.7"/>
<text x="333.50" y="267.00" font-size="5.0" font-family='"Liberation Sans", sans-serif' fill="#111" stroke="#111" stroke-width="0.18" font-weight="bold" text-anchor="end" transform="rotate(-33 333.50 267.00)">MDA231</text>
<line x1="342.30" y1="260.40" x2="342.30" y2="261.90" stroke="#222" stroke-width="0.7"/>
<text x="345.10" y="267.00" font-size="5.0" font-family='"Liberation Sans", sans-serif' fill="#111" stroke="#111" stroke-width="0.18" font-weight="bold" text-anchor="end" transform="rotate(-33 345.10 267.00)">231BrM</text>
<line x1="354.50" y1="260.40" x2="354.50" y2="261.90" stroke="#222" stroke-width="0.7"/>
<text x="357.30" y="267.00" font-size="5.0" font-family='"Liberation Sans", sans-serif' fill="#111" stroke="#111" stroke-width="0.18" font-weight="bold" text-anchor="end" transform="rotate(-33 357.30 267.00)">231HM</text>
<line x1="366.30" y1="260.40" x2="366.30" y2="261.90" stroke="#222" stroke-width="0.7"/>
<text x="369.10" y="267.00" font-size="5.0" font-family='"Liberation Sans", sans-serif' fill="#111" stroke="#111" stroke-width="0.18" font-weight="bold" text-anchor="end" transform="rotate(-33 369.10 267.00)">MDA231</text>
<line x1="377.10" y1="260.40" x2="377.10" y2="261.90" stroke="#222" stroke-width="0.7"/>
<text x="379.90" y="267.00" font-size="5.0" font-family='"Liberation Sans", sans-serif' fill="#111" stroke="#111" stroke-width="0.18" font-weight="bold" text-anchor="end" transform="rotate(-33 379.90 267.00)">231BrM</text>
<line x1="388.50" y1="260.40" x2="388.50" y2="261.90" stroke="#222" stroke-width="0.7"/>
<text x="391.30" y="267.00" font-size="5.0" font-family='"Liberation Sans", sans-serif' fill="#111" stroke="#111" stroke-width="0.18" font-weight="bold" text-anchor="end" transform="rotate(-33 391.30 267.00)">231HM</text>
<line x1="416.30" y1="192.30" x2="416.30" y2="261.00" stroke="#222" stroke-width="0.9"/>
<line x1="415.90" y1="260.60" x2="518.80" y2="260.60" stroke="#222" stroke-width="0.9"/>
<line x1="414.50" y1="260.60" x2="416.30" y2="260.60" stroke="#222" stroke-width="0.8"/>
<text x="413.80" y="262.20" font-size="4.8" font-family='"Liberation Sans", sans-serif' fill="#222" stroke="#222" stroke-width="0.18" font-weight="bold" text-anchor="end">0</text>
<line x1="414.50" y1="246.94" x2="416.30" y2="246.94" stroke="#222" stroke-width="0.8"/>
<text x="413.80" y="248.54" font-size="4.8" font-family='"Liberation Sans", sans-serif' fill="#222" stroke="#222" stroke-width="0.18" font-weight="bold" text-anchor="end">2</text>
<line x1="414.50" y1="233.28" x2="416.30" y2="233.28" stroke="#222" stroke-width="0.8"/>
<text x="413.80" y="234.88" font-size="4.8" font-family='"Liberation Sans", sans-serif' fill="#222" stroke="#222" stroke-width="0.18" font-weight="bold" text-anchor="end">4</text>
<line x1="414.50" y1="219.62" x2="416.30" y2="219.62" stroke="#222" stroke-width="0.8"/>
<text x="413.80" y="221.22" font-size="4.8" font-family='"Liberation Sans", sans-serif' fill="#222" stroke="#222" stroke-width="0.18" font-weight="bold" text-anchor="end">6</text>
<line x1="414.50" y1="205.96" x2="416.30" y2="205.96" stroke="#222" stroke-width="0.8"/>
<text x="413.80" y="207.56" font-size="4.8" font-family='"Liberation Sans", sans-serif' fill="#222" stroke="#222" stroke-width="0.18" font-weight="bold" text-anchor="end">8</text>
<line x1="414.50" y1="192.30" x2="416.30" y2="192.30" stroke="#222" stroke-width="0.8"/>
<text x="413.80" y="193.90" font-size="4.8" font-family='"Liberation Sans", sans-serif' fill="#222" stroke="#222" stroke-width="0.18" font-weight="bold" text-anchor="end">10</text>
<text x="402.10" y="226.40" font-size="5.0" font-family='"Liberation Sans", sans-serif' fill="#333" stroke="#333" stroke-width="0.18" font-weight="bold" text-anchor="middle" textLength="48" lengthAdjust="spacingAndGlyphs" transform="rotate(-90 402.10 226.40)">mRNA Expression</text>
<text x="408.80" y="222.00" font-size="5.0" font-family='"Liberation Sans", sans-serif' fill="#333" stroke="#333" stroke-width="0.18" font-weight="bold" text-anchor="middle" textLength="35" lengthAdjust="spacingAndGlyphs" transform="rotate(-90 408.80 222.00)">(relative units)</text>
<text x="433.00" y="197.30" font-size="5.5" font-family='"Liberation Sans", sans-serif' fill="#333" stroke="#333" stroke-width="0.18" text-anchor="middle">IL1β</text>
<text x="466.40" y="197.30" font-size="5.5" font-family='"Liberation Sans", sans-serif' fill="#333" stroke="#333" stroke-width="0.18" text-anchor="middle">IL8</text>
<text x="503.00" y="197.30" font-size="5.5" font-family='"Liberation Sans", sans-serif' fill="#333" stroke="#333" stroke-width="0.18" text-anchor="middle">CXCL1</text>
<rect x="418.20" y="259.20" width="13.00" height="1.40" fill="#000"/>
<rect x="436.30" y="249.20" width="12.10" height="11.40" fill="#000"/>
<line x1="442.35" y1="246.80" x2="442.35" y2="249.20" stroke="#111" stroke-width="0.9"/>
<line x1="440.45" y1="246.80" x2="444.25" y2="246.80" stroke="#111" stroke-width="0.9"/>
<circle cx="442.30" cy="244.70" r="0.85" fill="#111"/>
<rect x="453.85" y="257.45" width="11.30" height="3.15" fill="#fff" stroke="#111" stroke-width="0.9"/>
<line x1="459.50" y1="255.70" x2="459.50" y2="257.00" stroke="#111" stroke-width="0.9"/>
<line x1="457.60" y1="255.70" x2="461.40" y2="255.70" stroke="#111" stroke-width="0.9"/>
<rect x="470.85" y="207.05" width="10.70" height="53.55" fill="#fff" stroke="#111" stroke-width="0.9"/>
<line x1="476.20" y1="203.40" x2="476.20" y2="206.60" stroke="#111" stroke-width="0.9"/>
<line x1="472.60" y1="203.40" x2="479.80" y2="203.40" stroke="#111" stroke-width="0.9"/>
<circle cx="474.70" cy="199.30" r="0.85" fill="#111"/>
<circle cx="478.10" cy="199.30" r="0.85" fill="#111"/>
<rect x="487.30" y="258.90" width="11.10" height="1.70" fill="#6f9a1c"/>
<rect x="504.00" y="245.20" width="11.60" height="15.40" fill="#6f9a1c"/>
<circle cx="508.30" cy="241.70" r="0.85" fill="#111"/>
<circle cx="511.70" cy="241.70" r="0.85" fill="#111"/>
<line x1="424.70" y1="260.60" x2="424.70" y2="262.10" stroke="#222" stroke-width="0.7"/>
<text x="427.50" y="267.20" font-size="5.0" font-family='"Liberation Sans", sans-serif' fill="#111" stroke="#111" stroke-width="0.18" font-weight="bold" text-anchor="end" transform="rotate(-33 427.50 267.20)">SKBR3</text>
<line x1="442.30" y1="260.60" x2="442.30" y2="262.10" stroke="#222" stroke-width="0.7"/>
<text x="445.10" y="267.20" font-size="5.0" font-family='"Liberation Sans", sans-serif' fill="#111" stroke="#111" stroke-width="0.18" font-weight="bold" text-anchor="end" transform="rotate(-33 445.10 267.20)">SKBrM3</text>
<line x1="459.50" y1="260.60" x2="459.50" y2="262.10" stroke="#222" stroke-width="0.7"/>
<text x="462.30" y="267.20" font-size="5.0" font-family='"Liberation Sans", sans-serif' fill="#111" stroke="#111" stroke-width="0.18" font-weight="bold" text-anchor="end" transform="rotate(-33 462.30 267.20)">SKBR3</text>
<line x1="476.20" y1="260.60" x2="476.20" y2="262.10" stroke="#222" stroke-width="0.7"/>
<text x="479.00" y="267.20" font-size="5.0" font-family='"Liberation Sans", sans-serif' fill="#111" stroke="#111" stroke-width="0.18" font-weight="bold" text-anchor="end" transform="rotate(-33 479.00 267.20)">SKBrM3</text>
<line x1="492.80" y1="260.60" x2="492.80" y2="262.10" stroke="#222" stroke-width="0.7"/>
<text x="495.60" y="267.20" font-size="5.0" font-family='"Liberation Sans", sans-serif' fill="#111" stroke="#111" stroke-width="0.18" font-weight="bold" text-anchor="end" transform="rotate(-33 495.60 267.20)">SKBR3</text>
<line x1="509.80" y1="260.60" x2="509.80" y2="262.10" stroke="#222" stroke-width="0.7"/>
<text x="512.60" y="267.20" font-size="5.0" font-family='"Liberation Sans", sans-serif' fill="#111" stroke="#111" stroke-width="0.18" font-weight="bold" text-anchor="end" transform="rotate(-33 512.60 267.20)">SKBrM3</text>
</svg>
</body></html>
